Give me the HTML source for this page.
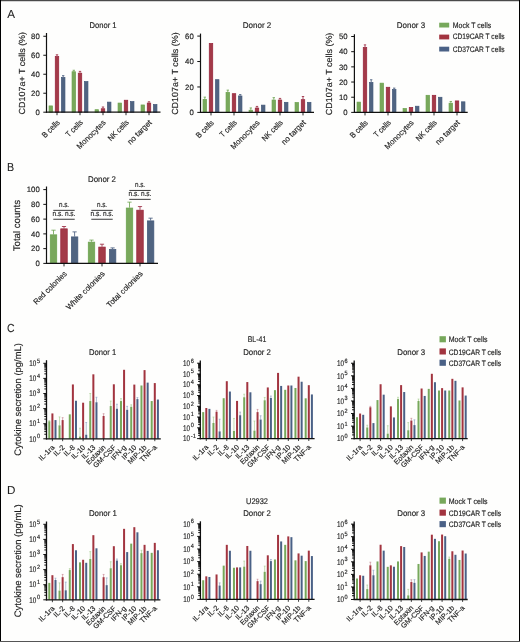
<!DOCTYPE html>
<html><head><meta charset="utf-8"><style>html,body{margin:0;padding:0;background:#fefefd;}svg{display:block;will-change:transform;}text{stroke:#1e1e1e;stroke-width:1.6px;text-rendering:geometricPrecision;}</style></head><body>
<svg width="520" height="642" viewBox="0 0 520 642" font-family='"Liberation Sans", sans-serif' fill="#1e1e1e">
<rect x="0" y="0" width="520" height="642" fill="#fefefd"/>
<text transform="translate(7.2 17.8) scale(0.1)" font-size="117" style="stroke-width:0.6px">A</text>
<rect x="49.05" y="105.91" width="3.5" height="6.29" fill="#79a85c" stroke="#6aa24c" stroke-width="0.7"/>
<line x1="57" y1="54.79" x2="57" y2="56.21" stroke="#97223a" stroke-width="0.8"/>
<line x1="55.8" y1="54.79" x2="58.2" y2="54.79" stroke="#97223a" stroke-width="0.8"/>
<rect x="55.25" y="56.56" width="3.5" height="55.64" fill="#a33a48" stroke="#97223a" stroke-width="0.7"/>
<line x1="63.2" y1="75.66" x2="63.2" y2="77.09" stroke="#42587a" stroke-width="0.8"/>
<line x1="62" y1="75.66" x2="64.4" y2="75.66" stroke="#42587a" stroke-width="0.8"/>
<rect x="61.45" y="77.44" width="3.5" height="34.76" fill="#506481" stroke="#42587a" stroke-width="0.7"/>
<line x1="73.8" y1="70.25" x2="73.8" y2="71.39" stroke="#6aa24c" stroke-width="0.8"/>
<line x1="72.6" y1="70.25" x2="75" y2="70.25" stroke="#6aa24c" stroke-width="0.8"/>
<rect x="72.05" y="71.74" width="3.5" height="40.46" fill="#79a85c" stroke="#6aa24c" stroke-width="0.7"/>
<line x1="80" y1="71.39" x2="80" y2="72.82" stroke="#97223a" stroke-width="0.8"/>
<line x1="78.8" y1="71.39" x2="81.2" y2="71.39" stroke="#97223a" stroke-width="0.8"/>
<rect x="78.25" y="73.17" width="3.5" height="39.03" fill="#a33a48" stroke="#97223a" stroke-width="0.7"/>
<rect x="84.45" y="81.61" width="3.5" height="30.59" fill="#506481" stroke="#42587a" stroke-width="0.7"/>
<rect x="95.05" y="109.7" width="3.5" height="2.5" fill="#79a85c" stroke="#6aa24c" stroke-width="0.7"/>
<line x1="103" y1="106.98" x2="103" y2="108.4" stroke="#97223a" stroke-width="0.8"/>
<line x1="101.8" y1="106.98" x2="104.2" y2="106.98" stroke="#97223a" stroke-width="0.8"/>
<rect x="101.25" y="108.75" width="3.5" height="3.45" fill="#a33a48" stroke="#97223a" stroke-width="0.7"/>
<rect x="107.45" y="102.11" width="3.5" height="10.09" fill="#506481" stroke="#42587a" stroke-width="0.7"/>
<rect x="118.05" y="103.06" width="3.5" height="9.14" fill="#79a85c" stroke="#6aa24c" stroke-width="0.7"/>
<rect x="124.25" y="100.21" width="3.5" height="11.99" fill="#a33a48" stroke="#97223a" stroke-width="0.7"/>
<rect x="130.45" y="101.64" width="3.5" height="10.56" fill="#506481" stroke="#42587a" stroke-width="0.7"/>
<rect x="141.05" y="104.96" width="3.5" height="7.24" fill="#79a85c" stroke="#6aa24c" stroke-width="0.7"/>
<line x1="149" y1="101.76" x2="149" y2="102.71" stroke="#97223a" stroke-width="0.8"/>
<line x1="147.8" y1="101.76" x2="150.2" y2="101.76" stroke="#97223a" stroke-width="0.8"/>
<rect x="147.25" y="103.06" width="3.5" height="9.14" fill="#a33a48" stroke="#97223a" stroke-width="0.7"/>
<rect x="153.45" y="104.48" width="3.5" height="7.72" fill="#506481" stroke="#42587a" stroke-width="0.7"/>
<line x1="46.5" y1="33" x2="46.5" y2="112.8" stroke="#111" stroke-width="1.2"/>
<line x1="45.9" y1="112.2" x2="160.5" y2="112.2" stroke="#111" stroke-width="1.2"/>
<line x1="43.3" y1="112.2" x2="46.5" y2="112.2" stroke="#111" stroke-width="1"/>
<text transform="translate(39.8 115) scale(0.1)" font-size="78" text-anchor="end">0</text>
<line x1="43.3" y1="93.22" x2="46.5" y2="93.22" stroke="#111" stroke-width="1"/>
<text transform="translate(39.8 96.02) scale(0.1)" font-size="78" text-anchor="end">20</text>
<line x1="43.3" y1="74.24" x2="46.5" y2="74.24" stroke="#111" stroke-width="1"/>
<text transform="translate(39.8 77.04) scale(0.1)" font-size="78" text-anchor="end">40</text>
<line x1="43.3" y1="55.26" x2="46.5" y2="55.26" stroke="#111" stroke-width="1"/>
<text transform="translate(39.8 58.06) scale(0.1)" font-size="78" text-anchor="end">60</text>
<line x1="43.3" y1="36.28" x2="46.5" y2="36.28" stroke="#111" stroke-width="1"/>
<text transform="translate(39.8 39.08) scale(0.1)" font-size="78" text-anchor="end">80</text>
<line x1="57" y1="112.2" x2="57" y2="115.2" stroke="#111" stroke-width="0.9"/>
<text transform="translate(60.3 123.1) rotate(-45) scale(0.1)" font-size="80" text-anchor="end" textLength="215" lengthAdjust="spacingAndGlyphs">B cells</text>
<line x1="80" y1="112.2" x2="80" y2="115.2" stroke="#111" stroke-width="0.9"/>
<text transform="translate(83.3 123.1) rotate(-45) scale(0.1)" font-size="80" text-anchor="end" textLength="205" lengthAdjust="spacingAndGlyphs">T cells</text>
<line x1="103" y1="112.2" x2="103" y2="115.2" stroke="#111" stroke-width="0.9"/>
<text transform="translate(106.3 123.1) rotate(-45) scale(0.1)" font-size="80" text-anchor="end" textLength="375" lengthAdjust="spacingAndGlyphs">Monocytes</text>
<line x1="126" y1="112.2" x2="126" y2="115.2" stroke="#111" stroke-width="0.9"/>
<text transform="translate(129.3 123.1) rotate(-45) scale(0.1)" font-size="80" text-anchor="end" textLength="260" lengthAdjust="spacingAndGlyphs">NK cells</text>
<line x1="149" y1="112.2" x2="149" y2="115.2" stroke="#111" stroke-width="0.9"/>
<text transform="translate(152.3 123.1) rotate(-45) scale(0.1)" font-size="80" text-anchor="end" textLength="310" lengthAdjust="spacingAndGlyphs">no target</text>
<text transform="translate(25 73.2) rotate(-90) scale(0.1)" font-size="88" text-anchor="middle" textLength="825" lengthAdjust="spacingAndGlyphs">CD107a+ T cells (%)</text>
<text transform="translate(103 28) scale(0.1)" font-size="83" text-anchor="middle" textLength="270" lengthAdjust="spacingAndGlyphs">Donor 1</text>
<line x1="204.8" y1="97.14" x2="204.8" y2="99.04" stroke="#6aa24c" stroke-width="0.8"/>
<line x1="203.6" y1="97.14" x2="206" y2="97.14" stroke="#6aa24c" stroke-width="0.8"/>
<rect x="203.05" y="99.39" width="3.5" height="13.01" fill="#79a85c" stroke="#6aa24c" stroke-width="0.7"/>
<rect x="209.25" y="43.43" width="3.5" height="68.97" fill="#a33a48" stroke="#97223a" stroke-width="0.7"/>
<rect x="215.45" y="79.68" width="3.5" height="32.72" fill="#506481" stroke="#42587a" stroke-width="0.7"/>
<line x1="227.8" y1="90.14" x2="227.8" y2="92.05" stroke="#6aa24c" stroke-width="0.8"/>
<line x1="226.6" y1="90.14" x2="229" y2="90.14" stroke="#6aa24c" stroke-width="0.8"/>
<rect x="226.05" y="92.4" width="3.5" height="20" fill="#79a85c" stroke="#6aa24c" stroke-width="0.7"/>
<rect x="232.25" y="93.67" width="3.5" height="18.73" fill="#a33a48" stroke="#97223a" stroke-width="0.7"/>
<line x1="240.2" y1="94.59" x2="240.2" y2="95.61" stroke="#42587a" stroke-width="0.8"/>
<line x1="239" y1="94.59" x2="241.4" y2="94.59" stroke="#42587a" stroke-width="0.8"/>
<rect x="238.45" y="95.96" width="3.5" height="16.44" fill="#506481" stroke="#42587a" stroke-width="0.7"/>
<line x1="250.8" y1="107.95" x2="250.8" y2="109.86" stroke="#6aa24c" stroke-width="0.8"/>
<line x1="249.6" y1="107.95" x2="252" y2="107.95" stroke="#6aa24c" stroke-width="0.8"/>
<rect x="249.05" y="110.21" width="3.5" height="2.19" fill="#79a85c" stroke="#6aa24c" stroke-width="0.7"/>
<line x1="257" y1="106.42" x2="257" y2="107.69" stroke="#97223a" stroke-width="0.8"/>
<line x1="255.8" y1="106.42" x2="258.2" y2="106.42" stroke="#97223a" stroke-width="0.8"/>
<rect x="255.25" y="108.04" width="3.5" height="4.36" fill="#a33a48" stroke="#97223a" stroke-width="0.7"/>
<rect x="261.45" y="105.12" width="3.5" height="7.28" fill="#506481" stroke="#42587a" stroke-width="0.7"/>
<line x1="273.8" y1="97.64" x2="273.8" y2="99.68" stroke="#6aa24c" stroke-width="0.8"/>
<line x1="272.6" y1="97.64" x2="275" y2="97.64" stroke="#6aa24c" stroke-width="0.8"/>
<rect x="272.05" y="100.03" width="3.5" height="12.37" fill="#79a85c" stroke="#6aa24c" stroke-width="0.7"/>
<line x1="280" y1="98.41" x2="280" y2="99.68" stroke="#97223a" stroke-width="0.8"/>
<line x1="278.8" y1="98.41" x2="281.2" y2="98.41" stroke="#97223a" stroke-width="0.8"/>
<rect x="278.25" y="100.03" width="3.5" height="12.37" fill="#a33a48" stroke="#97223a" stroke-width="0.7"/>
<rect x="284.45" y="102.32" width="3.5" height="10.08" fill="#506481" stroke="#42587a" stroke-width="0.7"/>
<rect x="295.05" y="102.57" width="3.5" height="9.83" fill="#79a85c" stroke="#6aa24c" stroke-width="0.7"/>
<line x1="303" y1="96.5" x2="303" y2="99.3" stroke="#97223a" stroke-width="0.8"/>
<line x1="301.8" y1="96.5" x2="304.2" y2="96.5" stroke="#97223a" stroke-width="0.8"/>
<rect x="301.25" y="99.65" width="3.5" height="12.75" fill="#a33a48" stroke="#97223a" stroke-width="0.7"/>
<rect x="307.45" y="102.32" width="3.5" height="10.08" fill="#506481" stroke="#42587a" stroke-width="0.7"/>
<line x1="200.5" y1="33.6" x2="200.5" y2="113" stroke="#111" stroke-width="1.2"/>
<line x1="199.9" y1="112.4" x2="314" y2="112.4" stroke="#111" stroke-width="1.2"/>
<line x1="197.3" y1="112.4" x2="200.5" y2="112.4" stroke="#111" stroke-width="1"/>
<text transform="translate(193.8 115.2) scale(0.1)" font-size="78" text-anchor="end">0</text>
<line x1="197.3" y1="86.96" x2="200.5" y2="86.96" stroke="#111" stroke-width="1"/>
<text transform="translate(193.8 89.76) scale(0.1)" font-size="78" text-anchor="end">20</text>
<line x1="197.3" y1="61.52" x2="200.5" y2="61.52" stroke="#111" stroke-width="1"/>
<text transform="translate(193.8 64.32) scale(0.1)" font-size="78" text-anchor="end">40</text>
<line x1="197.3" y1="36.08" x2="200.5" y2="36.08" stroke="#111" stroke-width="1"/>
<text transform="translate(193.8 38.88) scale(0.1)" font-size="78" text-anchor="end">60</text>
<line x1="211" y1="112.4" x2="211" y2="115.4" stroke="#111" stroke-width="0.9"/>
<text transform="translate(214.3 123.3) rotate(-45) scale(0.1)" font-size="80" text-anchor="end" textLength="215" lengthAdjust="spacingAndGlyphs">B cells</text>
<line x1="234" y1="112.4" x2="234" y2="115.4" stroke="#111" stroke-width="0.9"/>
<text transform="translate(237.3 123.3) rotate(-45) scale(0.1)" font-size="80" text-anchor="end" textLength="205" lengthAdjust="spacingAndGlyphs">T cells</text>
<line x1="257" y1="112.4" x2="257" y2="115.4" stroke="#111" stroke-width="0.9"/>
<text transform="translate(260.3 123.3) rotate(-45) scale(0.1)" font-size="80" text-anchor="end" textLength="375" lengthAdjust="spacingAndGlyphs">Monocytes</text>
<line x1="280" y1="112.4" x2="280" y2="115.4" stroke="#111" stroke-width="0.9"/>
<text transform="translate(283.3 123.3) rotate(-45) scale(0.1)" font-size="80" text-anchor="end" textLength="260" lengthAdjust="spacingAndGlyphs">NK cells</text>
<line x1="303" y1="112.4" x2="303" y2="115.4" stroke="#111" stroke-width="0.9"/>
<text transform="translate(306.3 123.3) rotate(-45) scale(0.1)" font-size="80" text-anchor="end" textLength="310" lengthAdjust="spacingAndGlyphs">no target</text>
<text transform="translate(177.9 73.6) rotate(-90) scale(0.1)" font-size="88" text-anchor="middle" textLength="825" lengthAdjust="spacingAndGlyphs">CD107a+ T cells (%)</text>
<text transform="translate(257 28) scale(0.1)" font-size="83" text-anchor="middle" textLength="285" lengthAdjust="spacingAndGlyphs">Donor 2</text>
<rect x="357.05" y="102.12" width="3.5" height="10.28" fill="#79a85c" stroke="#6aa24c" stroke-width="0.7"/>
<line x1="365" y1="44.85" x2="365" y2="47.13" stroke="#97223a" stroke-width="0.8"/>
<line x1="363.8" y1="44.85" x2="366.2" y2="44.85" stroke="#97223a" stroke-width="0.8"/>
<rect x="363.25" y="47.48" width="3.5" height="64.92" fill="#a33a48" stroke="#97223a" stroke-width="0.7"/>
<line x1="371.2" y1="79.76" x2="371.2" y2="82.04" stroke="#42587a" stroke-width="0.8"/>
<line x1="370" y1="79.76" x2="372.4" y2="79.76" stroke="#42587a" stroke-width="0.8"/>
<rect x="369.45" y="82.39" width="3.5" height="30.01" fill="#506481" stroke="#42587a" stroke-width="0.7"/>
<rect x="380.05" y="83.15" width="3.5" height="29.25" fill="#79a85c" stroke="#6aa24c" stroke-width="0.7"/>
<rect x="386.25" y="87.25" width="3.5" height="25.15" fill="#a33a48" stroke="#97223a" stroke-width="0.7"/>
<line x1="394.2" y1="88.11" x2="394.2" y2="89.17" stroke="#42587a" stroke-width="0.8"/>
<line x1="393" y1="88.11" x2="395.4" y2="88.11" stroke="#42587a" stroke-width="0.8"/>
<rect x="392.45" y="89.52" width="3.5" height="22.88" fill="#506481" stroke="#42587a" stroke-width="0.7"/>
<rect x="403.05" y="108.5" width="3.5" height="3.9" fill="#79a85c" stroke="#6aa24c" stroke-width="0.7"/>
<rect x="409.25" y="107.44" width="3.5" height="4.96" fill="#a33a48" stroke="#97223a" stroke-width="0.7"/>
<rect x="415.45" y="106.22" width="3.5" height="6.18" fill="#506481" stroke="#42587a" stroke-width="0.7"/>
<rect x="426.05" y="95.29" width="3.5" height="17.11" fill="#79a85c" stroke="#6aa24c" stroke-width="0.7"/>
<rect x="432.25" y="95.29" width="3.5" height="17.11" fill="#a33a48" stroke="#97223a" stroke-width="0.7"/>
<rect x="438.45" y="97.27" width="3.5" height="15.13" fill="#506481" stroke="#42587a" stroke-width="0.7"/>
<line x1="450.8" y1="101.47" x2="450.8" y2="102.84" stroke="#6aa24c" stroke-width="0.8"/>
<line x1="449.6" y1="101.47" x2="452" y2="101.47" stroke="#6aa24c" stroke-width="0.8"/>
<rect x="449.05" y="103.19" width="3.5" height="9.21" fill="#79a85c" stroke="#6aa24c" stroke-width="0.7"/>
<rect x="455.25" y="100.91" width="3.5" height="11.49" fill="#a33a48" stroke="#97223a" stroke-width="0.7"/>
<rect x="461.45" y="101.82" width="3.5" height="10.58" fill="#506481" stroke="#42587a" stroke-width="0.7"/>
<line x1="354.4" y1="34.2" x2="354.4" y2="113" stroke="#111" stroke-width="1.2"/>
<line x1="353.8" y1="112.4" x2="467.7" y2="112.4" stroke="#111" stroke-width="1.2"/>
<line x1="351.2" y1="112.4" x2="354.4" y2="112.4" stroke="#111" stroke-width="1"/>
<text transform="translate(347.7 115.2) scale(0.1)" font-size="78" text-anchor="end">0</text>
<line x1="351.2" y1="97.22" x2="354.4" y2="97.22" stroke="#111" stroke-width="1"/>
<text transform="translate(347.7 100.02) scale(0.1)" font-size="78" text-anchor="end">10</text>
<line x1="351.2" y1="82.04" x2="354.4" y2="82.04" stroke="#111" stroke-width="1"/>
<text transform="translate(347.7 84.84) scale(0.1)" font-size="78" text-anchor="end">20</text>
<line x1="351.2" y1="66.86" x2="354.4" y2="66.86" stroke="#111" stroke-width="1"/>
<text transform="translate(347.7 69.66) scale(0.1)" font-size="78" text-anchor="end">30</text>
<line x1="351.2" y1="51.68" x2="354.4" y2="51.68" stroke="#111" stroke-width="1"/>
<text transform="translate(347.7 54.48) scale(0.1)" font-size="78" text-anchor="end">40</text>
<line x1="351.2" y1="36.5" x2="354.4" y2="36.5" stroke="#111" stroke-width="1"/>
<text transform="translate(347.7 39.3) scale(0.1)" font-size="78" text-anchor="end">50</text>
<line x1="365" y1="112.4" x2="365" y2="115.4" stroke="#111" stroke-width="0.9"/>
<text transform="translate(368.3 123.3) rotate(-45) scale(0.1)" font-size="80" text-anchor="end" textLength="215" lengthAdjust="spacingAndGlyphs">B cells</text>
<line x1="388" y1="112.4" x2="388" y2="115.4" stroke="#111" stroke-width="0.9"/>
<text transform="translate(391.3 123.3) rotate(-45) scale(0.1)" font-size="80" text-anchor="end" textLength="205" lengthAdjust="spacingAndGlyphs">T cells</text>
<line x1="411" y1="112.4" x2="411" y2="115.4" stroke="#111" stroke-width="0.9"/>
<text transform="translate(414.3 123.3) rotate(-45) scale(0.1)" font-size="80" text-anchor="end" textLength="375" lengthAdjust="spacingAndGlyphs">Monocytes</text>
<line x1="434" y1="112.4" x2="434" y2="115.4" stroke="#111" stroke-width="0.9"/>
<text transform="translate(437.3 123.3) rotate(-45) scale(0.1)" font-size="80" text-anchor="end" textLength="260" lengthAdjust="spacingAndGlyphs">NK cells</text>
<line x1="457" y1="112.4" x2="457" y2="115.4" stroke="#111" stroke-width="0.9"/>
<text transform="translate(460.3 123.3) rotate(-45) scale(0.1)" font-size="80" text-anchor="end" textLength="310" lengthAdjust="spacingAndGlyphs">no target</text>
<text transform="translate(332.3 73.9) rotate(-90) scale(0.1)" font-size="88" text-anchor="middle" textLength="825" lengthAdjust="spacingAndGlyphs">CD107a+ T cells (%)</text>
<text transform="translate(411 28) scale(0.1)" font-size="83" text-anchor="middle" textLength="283" lengthAdjust="spacingAndGlyphs">Donor 3</text>
<rect x="439.2" y="22.7" width="10" height="4.8" fill="#77a85b"/>
<text transform="translate(452.7 27.5) scale(0.1)" font-size="79" textLength="385" lengthAdjust="spacingAndGlyphs">Mock T cells</text>
<rect x="439.2" y="34.6" width="10" height="4.8" fill="#a2343f"/>
<text transform="translate(452.7 39.4) scale(0.1)" font-size="79" textLength="520" lengthAdjust="spacingAndGlyphs">CD19CAR T cells</text>
<rect x="439.2" y="46.7" width="10" height="4.8" fill="#4a6186"/>
<text transform="translate(452.7 51.5) scale(0.1)" font-size="79" textLength="520" lengthAdjust="spacingAndGlyphs">CD37CAR T cells</text>
<text transform="translate(6.9 170.9) scale(0.1)" font-size="117" textLength="72" lengthAdjust="spacingAndGlyphs" style="stroke-width:0.6px">B</text>
<line x1="53.5" y1="230.19" x2="53.5" y2="234.47" stroke="#6aa24c" stroke-width="0.8"/>
<line x1="51.4" y1="230.19" x2="55.6" y2="230.19" stroke="#6aa24c" stroke-width="0.8"/>
<rect x="50.25" y="234.82" width="6.5" height="28.58" fill="#79a85c" stroke="#6aa24c" stroke-width="0.7"/>
<line x1="64" y1="226.5" x2="64" y2="228.49" stroke="#97223a" stroke-width="0.8"/>
<line x1="61.9" y1="226.5" x2="66.1" y2="226.5" stroke="#97223a" stroke-width="0.8"/>
<rect x="60.75" y="228.84" width="6.5" height="34.56" fill="#a33a48" stroke="#97223a" stroke-width="0.7"/>
<line x1="74.6" y1="231.89" x2="74.6" y2="236.54" stroke="#42587a" stroke-width="0.8"/>
<line x1="72.5" y1="231.89" x2="76.7" y2="231.89" stroke="#42587a" stroke-width="0.8"/>
<rect x="71.35" y="236.89" width="6.5" height="26.51" fill="#506481" stroke="#42587a" stroke-width="0.7"/>
<line x1="91.5" y1="240.08" x2="91.5" y2="241.78" stroke="#6aa24c" stroke-width="0.8"/>
<line x1="89.4" y1="240.08" x2="93.6" y2="240.08" stroke="#6aa24c" stroke-width="0.8"/>
<rect x="88.25" y="242.13" width="6.5" height="21.27" fill="#79a85c" stroke="#6aa24c" stroke-width="0.7"/>
<line x1="102" y1="244.21" x2="102" y2="246.72" stroke="#97223a" stroke-width="0.8"/>
<line x1="99.9" y1="244.21" x2="104.1" y2="244.21" stroke="#97223a" stroke-width="0.8"/>
<rect x="98.75" y="247.07" width="6.5" height="16.33" fill="#a33a48" stroke="#97223a" stroke-width="0.7"/>
<line x1="112.6" y1="247.9" x2="112.6" y2="249.08" stroke="#42587a" stroke-width="0.8"/>
<line x1="110.5" y1="247.9" x2="114.7" y2="247.9" stroke="#42587a" stroke-width="0.8"/>
<rect x="109.35" y="249.43" width="6.5" height="13.97" fill="#506481" stroke="#42587a" stroke-width="0.7"/>
<line x1="129.5" y1="202.15" x2="129.5" y2="207.68" stroke="#6aa24c" stroke-width="0.8"/>
<line x1="127.4" y1="202.15" x2="131.6" y2="202.15" stroke="#6aa24c" stroke-width="0.8"/>
<rect x="126.25" y="208.03" width="6.5" height="55.37" fill="#79a85c" stroke="#6aa24c" stroke-width="0.7"/>
<line x1="140" y1="206.57" x2="140" y2="209.82" stroke="#97223a" stroke-width="0.8"/>
<line x1="137.9" y1="206.57" x2="142.1" y2="206.57" stroke="#97223a" stroke-width="0.8"/>
<rect x="136.75" y="210.17" width="6.5" height="53.23" fill="#a33a48" stroke="#97223a" stroke-width="0.7"/>
<line x1="150.6" y1="218.16" x2="150.6" y2="220.52" stroke="#42587a" stroke-width="0.8"/>
<line x1="148.5" y1="218.16" x2="152.7" y2="218.16" stroke="#42587a" stroke-width="0.8"/>
<rect x="147.35" y="220.87" width="6.5" height="42.53" fill="#506481" stroke="#42587a" stroke-width="0.7"/>
<line x1="46.5" y1="186.5" x2="46.5" y2="264" stroke="#111" stroke-width="1.2"/>
<line x1="45.9" y1="263.4" x2="158" y2="263.4" stroke="#111" stroke-width="1.2"/>
<line x1="43.3" y1="263.4" x2="46.5" y2="263.4" stroke="#111" stroke-width="1"/>
<text transform="translate(39.8 266.2) scale(0.1)" font-size="78" text-anchor="end">0</text>
<line x1="43.3" y1="248.64" x2="46.5" y2="248.64" stroke="#111" stroke-width="1"/>
<text transform="translate(39.8 251.44) scale(0.1)" font-size="78" text-anchor="end">20</text>
<line x1="43.3" y1="233.88" x2="46.5" y2="233.88" stroke="#111" stroke-width="1"/>
<text transform="translate(39.8 236.68) scale(0.1)" font-size="78" text-anchor="end">40</text>
<line x1="43.3" y1="219.12" x2="46.5" y2="219.12" stroke="#111" stroke-width="1"/>
<text transform="translate(39.8 221.92) scale(0.1)" font-size="78" text-anchor="end">60</text>
<line x1="43.3" y1="204.36" x2="46.5" y2="204.36" stroke="#111" stroke-width="1"/>
<text transform="translate(39.8 207.16) scale(0.1)" font-size="78" text-anchor="end">80</text>
<line x1="43.3" y1="189.6" x2="46.5" y2="189.6" stroke="#111" stroke-width="1"/>
<text transform="translate(39.8 192.4) scale(0.1)" font-size="78" text-anchor="end">100</text>
<line x1="64" y1="263.4" x2="64" y2="266.4" stroke="#111" stroke-width="0.9"/>
<text transform="translate(67.3 274.3) rotate(-45) scale(0.1)" font-size="80" text-anchor="end" textLength="435" lengthAdjust="spacingAndGlyphs">Red colonies</text>
<line x1="102" y1="263.4" x2="102" y2="266.4" stroke="#111" stroke-width="0.9"/>
<text transform="translate(105.3 274.3) rotate(-45) scale(0.1)" font-size="80" text-anchor="end" textLength="510" lengthAdjust="spacingAndGlyphs">White colonies</text>
<line x1="140" y1="263.4" x2="140" y2="266.4" stroke="#111" stroke-width="0.9"/>
<text transform="translate(143.3 274.3) rotate(-45) scale(0.1)" font-size="80" text-anchor="end" textLength="475" lengthAdjust="spacingAndGlyphs">Total colonies</text>
<text transform="translate(20.1 225.55) rotate(-90) scale(0.1)" font-size="96" text-anchor="middle" textLength="513" lengthAdjust="spacingAndGlyphs">Total counts</text>
<text transform="translate(102 181.6) scale(0.1)" font-size="83" text-anchor="middle" textLength="280" lengthAdjust="spacingAndGlyphs">Donor 2</text>
<text transform="translate(64 207.1) scale(0.1)" font-size="76" text-anchor="middle" textLength="102" lengthAdjust="spacingAndGlyphs">n.s.</text>
<line x1="53.3" y1="210.35" x2="74.7" y2="210.35" stroke="#3a3a3a" stroke-width="1"/>
<text transform="translate(64 216) scale(0.1)" font-size="76" text-anchor="middle" textLength="228" lengthAdjust="spacingAndGlyphs">n.s. n.s.</text>
<line x1="53.3" y1="219.25" x2="74.7" y2="219.25" stroke="#3a3a3a" stroke-width="1"/>
<text transform="translate(102 207.1) scale(0.1)" font-size="76" text-anchor="middle" textLength="102" lengthAdjust="spacingAndGlyphs">n.s.</text>
<line x1="91.3" y1="210.35" x2="112.7" y2="210.35" stroke="#3a3a3a" stroke-width="1"/>
<text transform="translate(102 216) scale(0.1)" font-size="76" text-anchor="middle" textLength="228" lengthAdjust="spacingAndGlyphs">n.s. n.s.</text>
<line x1="91.3" y1="219.25" x2="112.7" y2="219.25" stroke="#3a3a3a" stroke-width="1"/>
<text transform="translate(140 187.2) scale(0.1)" font-size="76" text-anchor="middle" textLength="102" lengthAdjust="spacingAndGlyphs">n.s.</text>
<line x1="129.3" y1="190.45" x2="150.7" y2="190.45" stroke="#3a3a3a" stroke-width="1"/>
<text transform="translate(140 196.1) scale(0.1)" font-size="76" text-anchor="middle" textLength="228" lengthAdjust="spacingAndGlyphs">n.s. n.s.</text>
<line x1="129.3" y1="199.35" x2="150.7" y2="199.35" stroke="#3a3a3a" stroke-width="1"/>
<text transform="translate(6.9 332) scale(0.1)" font-size="117" textLength="76" lengthAdjust="spacingAndGlyphs" style="stroke-width:0.6px">C</text>
<text transform="translate(257 342.3) scale(0.1)" font-size="83" text-anchor="middle" textLength="185" lengthAdjust="spacingAndGlyphs">BL-41</text>
<rect x="439.5" y="336.2" width="6.4" height="6.1" fill="#77a85b"/>
<text transform="translate(448.7 342.3) scale(0.1)" font-size="79" textLength="389" lengthAdjust="spacingAndGlyphs">Mock T cells</text>
<rect x="439.5" y="348.4" width="6.4" height="6.1" fill="#a2343f"/>
<text transform="translate(448.7 354.5) scale(0.1)" font-size="79" textLength="523" lengthAdjust="spacingAndGlyphs">CD19CAR T cells</text>
<rect x="439.5" y="359.7" width="6.4" height="6.1" fill="#4a6186"/>
<text transform="translate(448.7 365.8) scale(0.1)" font-size="79" textLength="523" lengthAdjust="spacingAndGlyphs">CD37CAR T cells</text>
<text transform="translate(102.6 354.8) scale(0.1)" font-size="83" text-anchor="middle" textLength="272" lengthAdjust="spacingAndGlyphs">Donor 1</text>
<text transform="translate(257.1 354.8) scale(0.1)" font-size="83" text-anchor="middle" textLength="277" lengthAdjust="spacingAndGlyphs">Donor 2</text>
<text transform="translate(411.2 355) scale(0.1)" font-size="83" text-anchor="middle" textLength="280" lengthAdjust="spacingAndGlyphs">Donor 3</text>
<text transform="translate(21 399.4) rotate(-90) scale(0.1)" font-size="95" text-anchor="middle" textLength="1125" lengthAdjust="spacingAndGlyphs">Cytokine secretion (pg/mL)</text>
<line x1="49.3" y1="420.68" x2="49.3" y2="421.28" stroke="#a9cf94" stroke-width="0.7"/>
<line x1="48.4" y1="420.68" x2="50.2" y2="420.68" stroke="#a9cf94" stroke-width="0.7"/>
<rect x="48.3" y="421.28" width="2" height="17.52" fill="#77a85b"/>
<rect x="51.4" y="413.43" width="2" height="25.37" fill="#a2343f"/>
<rect x="54.5" y="420.08" width="2" height="18.72" fill="#4a6186"/>
<line x1="59.54" y1="416.91" x2="59.54" y2="425.36" stroke="#a9cf94" stroke-width="0.7"/>
<line x1="58.64" y1="416.91" x2="60.44" y2="416.91" stroke="#a9cf94" stroke-width="0.7"/>
<rect x="58.54" y="425.36" width="2" height="13.44" fill="#77a85b"/>
<line x1="62.64" y1="417.66" x2="62.64" y2="420.08" stroke="#c98a95" stroke-width="0.7"/>
<line x1="61.74" y1="417.66" x2="63.54" y2="417.66" stroke="#c98a95" stroke-width="0.7"/>
<rect x="61.64" y="420.08" width="2" height="18.72" fill="#a2343f"/>
<rect x="68.78" y="414.34" width="2" height="24.46" fill="#77a85b"/>
<rect x="71.88" y="384.44" width="2" height="54.36" fill="#a2343f"/>
<rect x="74.98" y="400.75" width="2" height="38.05" fill="#4a6186"/>
<line x1="80.02" y1="428.23" x2="80.02" y2="436.54" stroke="#a9cf94" stroke-width="0.7"/>
<line x1="79.12" y1="428.23" x2="80.92" y2="428.23" stroke="#a9cf94" stroke-width="0.7"/>
<rect x="79.02" y="436.54" width="2" height="2.26" fill="#77a85b"/>
<rect x="82.12" y="402.71" width="2" height="36.09" fill="#a2343f"/>
<line x1="86.22" y1="422.49" x2="86.22" y2="434.72" stroke="#8fa3c4" stroke-width="0.7"/>
<line x1="85.32" y1="422.49" x2="87.12" y2="422.49" stroke="#8fa3c4" stroke-width="0.7"/>
<rect x="85.22" y="434.72" width="2" height="4.08" fill="#4a6186"/>
<line x1="90.26" y1="393.5" x2="90.26" y2="401.05" stroke="#a9cf94" stroke-width="0.7"/>
<line x1="89.36" y1="393.5" x2="91.16" y2="393.5" stroke="#a9cf94" stroke-width="0.7"/>
<rect x="89.26" y="401.05" width="2" height="37.75" fill="#77a85b"/>
<rect x="92.36" y="374.32" width="2" height="64.48" fill="#a2343f"/>
<line x1="96.46" y1="397.28" x2="96.46" y2="402.26" stroke="#8fa3c4" stroke-width="0.7"/>
<line x1="95.56" y1="397.28" x2="97.36" y2="397.28" stroke="#8fa3c4" stroke-width="0.7"/>
<rect x="95.46" y="402.26" width="2" height="36.54" fill="#4a6186"/>
<line x1="103.6" y1="413.73" x2="103.6" y2="416" stroke="#c98a95" stroke-width="0.7"/>
<line x1="102.7" y1="413.73" x2="104.5" y2="413.73" stroke="#c98a95" stroke-width="0.7"/>
<rect x="102.6" y="416" width="2" height="22.8" fill="#a2343f"/>
<line x1="110.74" y1="401.05" x2="110.74" y2="406.03" stroke="#a9cf94" stroke-width="0.7"/>
<line x1="109.84" y1="401.05" x2="111.64" y2="401.05" stroke="#a9cf94" stroke-width="0.7"/>
<rect x="109.74" y="406.03" width="2" height="32.77" fill="#77a85b"/>
<rect x="112.84" y="384.29" width="2" height="54.51" fill="#a2343f"/>
<line x1="116.94" y1="404.22" x2="116.94" y2="408.75" stroke="#8fa3c4" stroke-width="0.7"/>
<line x1="116.04" y1="404.22" x2="117.84" y2="404.22" stroke="#8fa3c4" stroke-width="0.7"/>
<rect x="115.94" y="408.75" width="2" height="30.05" fill="#4a6186"/>
<line x1="120.98" y1="398.63" x2="120.98" y2="401.05" stroke="#a9cf94" stroke-width="0.7"/>
<line x1="120.08" y1="398.63" x2="121.88" y2="398.63" stroke="#a9cf94" stroke-width="0.7"/>
<rect x="119.98" y="401.05" width="2" height="37.75" fill="#77a85b"/>
<rect x="123.08" y="369.79" width="2" height="69.01" fill="#a2343f"/>
<line x1="127.18" y1="406.34" x2="127.18" y2="409.81" stroke="#8fa3c4" stroke-width="0.7"/>
<line x1="126.28" y1="406.34" x2="128.08" y2="406.34" stroke="#8fa3c4" stroke-width="0.7"/>
<rect x="126.18" y="409.81" width="2" height="28.99" fill="#4a6186"/>
<line x1="131.22" y1="404.82" x2="131.22" y2="406.79" stroke="#a9cf94" stroke-width="0.7"/>
<line x1="130.32" y1="404.82" x2="132.12" y2="404.82" stroke="#a9cf94" stroke-width="0.7"/>
<rect x="130.22" y="406.79" width="2" height="32.01" fill="#77a85b"/>
<rect x="133.32" y="384.59" width="2" height="54.21" fill="#a2343f"/>
<line x1="137.42" y1="397.58" x2="137.42" y2="399.09" stroke="#8fa3c4" stroke-width="0.7"/>
<line x1="136.52" y1="397.58" x2="138.32" y2="397.58" stroke="#8fa3c4" stroke-width="0.7"/>
<rect x="136.42" y="399.09" width="2" height="39.71" fill="#4a6186"/>
<rect x="140.46" y="385.5" width="2" height="53.3" fill="#77a85b"/>
<rect x="143.56" y="370.1" width="2" height="68.7" fill="#a2343f"/>
<rect x="146.66" y="382.63" width="2" height="56.17" fill="#4a6186"/>
<rect x="150.7" y="401.05" width="2" height="37.75" fill="#77a85b"/>
<rect x="153.8" y="383.08" width="2" height="55.72" fill="#a2343f"/>
<rect x="156.9" y="399.54" width="2" height="39.26" fill="#4a6186"/>
<line x1="46.5" y1="360.2" x2="46.5" y2="439.4" stroke="#111" stroke-width="1.3"/>
<line x1="45.9" y1="438.8" x2="160.8" y2="438.8" stroke="#111" stroke-width="1.3"/>
<line x1="43.3" y1="438.8" x2="46.5" y2="438.8" stroke="#111" stroke-width="1"/>
<line x1="44.3" y1="434.25" x2="46.5" y2="434.25" stroke="#000" stroke-width="0.9"/>
<line x1="44.3" y1="431.6" x2="46.5" y2="431.6" stroke="#000" stroke-width="0.9"/>
<line x1="44.3" y1="429.71" x2="46.5" y2="429.71" stroke="#000" stroke-width="0.9"/>
<line x1="44.3" y1="428.25" x2="46.5" y2="428.25" stroke="#000" stroke-width="0.9"/>
<line x1="44.3" y1="427.05" x2="46.5" y2="427.05" stroke="#000" stroke-width="0.9"/>
<line x1="44.3" y1="426.04" x2="46.5" y2="426.04" stroke="#000" stroke-width="0.9"/>
<line x1="44.3" y1="425.16" x2="46.5" y2="425.16" stroke="#000" stroke-width="0.9"/>
<line x1="44.3" y1="424.39" x2="46.5" y2="424.39" stroke="#000" stroke-width="0.9"/>
<text transform="translate(29.3 441.5) scale(0.1)" font-size="83" textLength="70" lengthAdjust="spacingAndGlyphs">10</text>
<text transform="translate(36.9 438.2) scale(0.1)" font-size="62" textLength="31" lengthAdjust="spacingAndGlyphs">0</text>
<line x1="43.3" y1="423.7" x2="46.5" y2="423.7" stroke="#111" stroke-width="1"/>
<line x1="44.3" y1="419.15" x2="46.5" y2="419.15" stroke="#000" stroke-width="0.9"/>
<line x1="44.3" y1="416.5" x2="46.5" y2="416.5" stroke="#000" stroke-width="0.9"/>
<line x1="44.3" y1="414.61" x2="46.5" y2="414.61" stroke="#000" stroke-width="0.9"/>
<line x1="44.3" y1="413.15" x2="46.5" y2="413.15" stroke="#000" stroke-width="0.9"/>
<line x1="44.3" y1="411.95" x2="46.5" y2="411.95" stroke="#000" stroke-width="0.9"/>
<line x1="44.3" y1="410.94" x2="46.5" y2="410.94" stroke="#000" stroke-width="0.9"/>
<line x1="44.3" y1="410.06" x2="46.5" y2="410.06" stroke="#000" stroke-width="0.9"/>
<line x1="44.3" y1="409.29" x2="46.5" y2="409.29" stroke="#000" stroke-width="0.9"/>
<text transform="translate(29.3 426.4) scale(0.1)" font-size="83" textLength="70" lengthAdjust="spacingAndGlyphs">10</text>
<text transform="translate(36.9 423.1) scale(0.1)" font-size="62" textLength="31" lengthAdjust="spacingAndGlyphs">1</text>
<line x1="43.3" y1="408.6" x2="46.5" y2="408.6" stroke="#111" stroke-width="1"/>
<line x1="44.3" y1="404.05" x2="46.5" y2="404.05" stroke="#000" stroke-width="0.9"/>
<line x1="44.3" y1="401.4" x2="46.5" y2="401.4" stroke="#000" stroke-width="0.9"/>
<line x1="44.3" y1="399.51" x2="46.5" y2="399.51" stroke="#000" stroke-width="0.9"/>
<line x1="44.3" y1="398.05" x2="46.5" y2="398.05" stroke="#000" stroke-width="0.9"/>
<line x1="44.3" y1="396.85" x2="46.5" y2="396.85" stroke="#000" stroke-width="0.9"/>
<line x1="44.3" y1="395.84" x2="46.5" y2="395.84" stroke="#000" stroke-width="0.9"/>
<line x1="44.3" y1="394.96" x2="46.5" y2="394.96" stroke="#000" stroke-width="0.9"/>
<line x1="44.3" y1="394.19" x2="46.5" y2="394.19" stroke="#000" stroke-width="0.9"/>
<text transform="translate(29.3 411.3) scale(0.1)" font-size="83" textLength="70" lengthAdjust="spacingAndGlyphs">10</text>
<text transform="translate(36.9 408) scale(0.1)" font-size="62" textLength="31" lengthAdjust="spacingAndGlyphs">2</text>
<line x1="43.3" y1="393.5" x2="46.5" y2="393.5" stroke="#111" stroke-width="1"/>
<line x1="44.3" y1="388.95" x2="46.5" y2="388.95" stroke="#000" stroke-width="0.9"/>
<line x1="44.3" y1="386.3" x2="46.5" y2="386.3" stroke="#000" stroke-width="0.9"/>
<line x1="44.3" y1="384.41" x2="46.5" y2="384.41" stroke="#000" stroke-width="0.9"/>
<line x1="44.3" y1="382.95" x2="46.5" y2="382.95" stroke="#000" stroke-width="0.9"/>
<line x1="44.3" y1="381.75" x2="46.5" y2="381.75" stroke="#000" stroke-width="0.9"/>
<line x1="44.3" y1="380.74" x2="46.5" y2="380.74" stroke="#000" stroke-width="0.9"/>
<line x1="44.3" y1="379.86" x2="46.5" y2="379.86" stroke="#000" stroke-width="0.9"/>
<line x1="44.3" y1="379.09" x2="46.5" y2="379.09" stroke="#000" stroke-width="0.9"/>
<text transform="translate(29.3 396.2) scale(0.1)" font-size="83" textLength="70" lengthAdjust="spacingAndGlyphs">10</text>
<text transform="translate(36.9 392.9) scale(0.1)" font-size="62" textLength="31" lengthAdjust="spacingAndGlyphs">3</text>
<line x1="43.3" y1="378.4" x2="46.5" y2="378.4" stroke="#111" stroke-width="1"/>
<line x1="44.3" y1="373.85" x2="46.5" y2="373.85" stroke="#000" stroke-width="0.9"/>
<line x1="44.3" y1="371.2" x2="46.5" y2="371.2" stroke="#000" stroke-width="0.9"/>
<line x1="44.3" y1="369.31" x2="46.5" y2="369.31" stroke="#000" stroke-width="0.9"/>
<line x1="44.3" y1="367.85" x2="46.5" y2="367.85" stroke="#000" stroke-width="0.9"/>
<line x1="44.3" y1="366.65" x2="46.5" y2="366.65" stroke="#000" stroke-width="0.9"/>
<line x1="44.3" y1="365.64" x2="46.5" y2="365.64" stroke="#000" stroke-width="0.9"/>
<line x1="44.3" y1="364.76" x2="46.5" y2="364.76" stroke="#000" stroke-width="0.9"/>
<line x1="44.3" y1="363.99" x2="46.5" y2="363.99" stroke="#000" stroke-width="0.9"/>
<text transform="translate(29.3 381.1) scale(0.1)" font-size="83" textLength="70" lengthAdjust="spacingAndGlyphs">10</text>
<text transform="translate(36.9 377.8) scale(0.1)" font-size="62" textLength="31" lengthAdjust="spacingAndGlyphs">4</text>
<line x1="43.3" y1="363.3" x2="46.5" y2="363.3" stroke="#111" stroke-width="1"/>
<text transform="translate(29.3 366) scale(0.1)" font-size="83" textLength="70" lengthAdjust="spacingAndGlyphs">10</text>
<text transform="translate(36.9 362.7) scale(0.1)" font-size="62" textLength="31" lengthAdjust="spacingAndGlyphs">5</text>
<line x1="52.4" y1="438.8" x2="52.4" y2="441.2" stroke="#111" stroke-width="0.8"/>
<line x1="62.64" y1="438.8" x2="62.64" y2="441.2" stroke="#111" stroke-width="0.8"/>
<line x1="72.88" y1="438.8" x2="72.88" y2="441.2" stroke="#111" stroke-width="0.8"/>
<line x1="83.12" y1="438.8" x2="83.12" y2="441.2" stroke="#111" stroke-width="0.8"/>
<line x1="93.36" y1="438.8" x2="93.36" y2="441.2" stroke="#111" stroke-width="0.8"/>
<line x1="103.6" y1="438.8" x2="103.6" y2="441.2" stroke="#111" stroke-width="0.8"/>
<line x1="113.84" y1="438.8" x2="113.84" y2="441.2" stroke="#111" stroke-width="0.8"/>
<line x1="124.08" y1="438.8" x2="124.08" y2="441.2" stroke="#111" stroke-width="0.8"/>
<line x1="134.32" y1="438.8" x2="134.32" y2="441.2" stroke="#111" stroke-width="0.8"/>
<line x1="144.56" y1="438.8" x2="144.56" y2="441.2" stroke="#111" stroke-width="0.8"/>
<line x1="154.8" y1="438.8" x2="154.8" y2="441.2" stroke="#111" stroke-width="0.8"/>
<text transform="translate(55 447.8) rotate(-45) scale(0.1)" font-size="73" text-anchor="end">IL-1ra</text>
<text transform="translate(65.24 447.8) rotate(-45) scale(0.1)" font-size="73" text-anchor="end">IL-2</text>
<text transform="translate(75.48 447.8) rotate(-45) scale(0.1)" font-size="73" text-anchor="end">IL-8</text>
<text transform="translate(85.72 447.8) rotate(-45) scale(0.1)" font-size="73" text-anchor="end">IL-10</text>
<text transform="translate(95.96 447.8) rotate(-45) scale(0.1)" font-size="73" text-anchor="end">IL-13</text>
<text transform="translate(106.2 447.8) rotate(-45) scale(0.1)" font-size="73" text-anchor="end">Eotaxin</text>
<text transform="translate(116.44 447.8) rotate(-45) scale(0.1)" font-size="73" text-anchor="end">GM-CSF</text>
<text transform="translate(126.68 447.8) rotate(-45) scale(0.1)" font-size="73" text-anchor="end">IFN-g</text>
<text transform="translate(136.92 447.8) rotate(-45) scale(0.1)" font-size="73" text-anchor="end">IP-10</text>
<text transform="translate(147.16 447.8) rotate(-45) scale(0.1)" font-size="73" text-anchor="end">MIP-1b</text>
<text transform="translate(157.4 447.8) rotate(-45) scale(0.1)" font-size="73" text-anchor="end">TNF-a</text>
<rect x="202.2" y="412.11" width="2" height="26.49" fill="#77a85b"/>
<rect x="205.3" y="408.01" width="2" height="30.59" fill="#a2343f"/>
<rect x="208.4" y="408.87" width="2" height="29.73" fill="#4a6186"/>
<line x1="213.45" y1="417.06" x2="213.45" y2="422.98" stroke="#a9cf94" stroke-width="0.7"/>
<line x1="212.55" y1="417.06" x2="214.35" y2="417.06" stroke="#a9cf94" stroke-width="0.7"/>
<rect x="212.45" y="422.98" width="2" height="15.62" fill="#77a85b"/>
<line x1="216.55" y1="410.38" x2="216.55" y2="411.68" stroke="#c98a95" stroke-width="0.7"/>
<line x1="215.65" y1="410.38" x2="217.45" y2="410.38" stroke="#c98a95" stroke-width="0.7"/>
<rect x="215.55" y="411.68" width="2" height="26.93" fill="#a2343f"/>
<line x1="219.65" y1="419.21" x2="219.65" y2="431.38" stroke="#8fa3c4" stroke-width="0.7"/>
<line x1="218.75" y1="419.21" x2="220.55" y2="419.21" stroke="#8fa3c4" stroke-width="0.7"/>
<rect x="218.65" y="431.38" width="2" height="7.22" fill="#4a6186"/>
<rect x="222.7" y="398.21" width="2" height="40.39" fill="#77a85b"/>
<rect x="225.8" y="381.2" width="2" height="57.4" fill="#a2343f"/>
<rect x="228.9" y="391.54" width="2" height="47.06" fill="#4a6186"/>
<line x1="233.95" y1="418.46" x2="233.95" y2="430.95" stroke="#a9cf94" stroke-width="0.7"/>
<line x1="233.05" y1="418.46" x2="234.85" y2="418.46" stroke="#a9cf94" stroke-width="0.7"/>
<rect x="232.95" y="430.95" width="2" height="7.65" fill="#77a85b"/>
<rect x="236.05" y="400.91" width="2" height="37.69" fill="#a2343f"/>
<line x1="240.15" y1="412.11" x2="240.15" y2="415.23" stroke="#8fa3c4" stroke-width="0.7"/>
<line x1="239.25" y1="412.11" x2="241.05" y2="412.11" stroke="#8fa3c4" stroke-width="0.7"/>
<rect x="239.15" y="415.23" width="2" height="23.37" fill="#4a6186"/>
<line x1="244.2" y1="394.23" x2="244.2" y2="397.24" stroke="#a9cf94" stroke-width="0.7"/>
<line x1="243.3" y1="394.23" x2="245.1" y2="394.23" stroke="#a9cf94" stroke-width="0.7"/>
<rect x="243.2" y="397.24" width="2" height="41.36" fill="#77a85b"/>
<rect x="246.3" y="382.06" width="2" height="56.54" fill="#a2343f"/>
<rect x="249.4" y="392.29" width="2" height="46.31" fill="#4a6186"/>
<line x1="254.45" y1="421.04" x2="254.45" y2="430.63" stroke="#a9cf94" stroke-width="0.7"/>
<line x1="253.55" y1="421.04" x2="255.35" y2="421.04" stroke="#a9cf94" stroke-width="0.7"/>
<rect x="253.45" y="430.63" width="2" height="7.97" fill="#77a85b"/>
<line x1="257.55" y1="409.41" x2="257.55" y2="412.11" stroke="#c98a95" stroke-width="0.7"/>
<line x1="256.65" y1="409.41" x2="258.45" y2="409.41" stroke="#c98a95" stroke-width="0.7"/>
<rect x="256.55" y="412.11" width="2" height="26.49" fill="#a2343f"/>
<line x1="260.65" y1="415.77" x2="260.65" y2="419.54" stroke="#8fa3c4" stroke-width="0.7"/>
<line x1="259.75" y1="415.77" x2="261.55" y2="415.77" stroke="#8fa3c4" stroke-width="0.7"/>
<rect x="259.65" y="419.54" width="2" height="19.06" fill="#4a6186"/>
<line x1="264.7" y1="397.46" x2="264.7" y2="400.26" stroke="#a9cf94" stroke-width="0.7"/>
<line x1="263.8" y1="397.46" x2="265.6" y2="397.46" stroke="#a9cf94" stroke-width="0.7"/>
<rect x="263.7" y="400.26" width="2" height="38.34" fill="#77a85b"/>
<rect x="266.8" y="387.44" width="2" height="51.16" fill="#a2343f"/>
<line x1="270.9" y1="396.06" x2="270.9" y2="398" stroke="#8fa3c4" stroke-width="0.7"/>
<line x1="270" y1="396.06" x2="271.8" y2="396.06" stroke="#8fa3c4" stroke-width="0.7"/>
<rect x="269.9" y="398" width="2" height="40.6" fill="#4a6186"/>
<rect x="273.95" y="390.14" width="2" height="48.46" fill="#77a85b"/>
<rect x="277.05" y="372.9" width="2" height="65.7" fill="#a2343f"/>
<rect x="280.15" y="385.93" width="2" height="52.67" fill="#4a6186"/>
<rect x="284.2" y="389.81" width="2" height="48.79" fill="#77a85b"/>
<rect x="287.3" y="385.5" width="2" height="53.1" fill="#a2343f"/>
<rect x="290.4" y="385.5" width="2" height="53.1" fill="#4a6186"/>
<rect x="294.45" y="387.98" width="2" height="50.62" fill="#77a85b"/>
<rect x="297.55" y="376.67" width="2" height="61.93" fill="#a2343f"/>
<rect x="300.65" y="381.73" width="2" height="56.87" fill="#4a6186"/>
<rect x="304.7" y="398.32" width="2" height="40.28" fill="#77a85b"/>
<rect x="307.8" y="385.18" width="2" height="53.42" fill="#a2343f"/>
<rect x="310.9" y="394.44" width="2" height="44.16" fill="#4a6186"/>
<line x1="200.3" y1="360.4" x2="200.3" y2="439.2" stroke="#111" stroke-width="1.3"/>
<line x1="199.7" y1="438.6" x2="314.6" y2="438.6" stroke="#111" stroke-width="1.3"/>
<line x1="197.1" y1="438.6" x2="200.3" y2="438.6" stroke="#111" stroke-width="1"/>
<line x1="198.1" y1="435.36" x2="200.3" y2="435.36" stroke="#000" stroke-width="0.9"/>
<line x1="198.1" y1="433.46" x2="200.3" y2="433.46" stroke="#000" stroke-width="0.9"/>
<line x1="198.1" y1="432.12" x2="200.3" y2="432.12" stroke="#000" stroke-width="0.9"/>
<line x1="198.1" y1="431.07" x2="200.3" y2="431.07" stroke="#000" stroke-width="0.9"/>
<line x1="198.1" y1="430.22" x2="200.3" y2="430.22" stroke="#000" stroke-width="0.9"/>
<line x1="198.1" y1="429.5" x2="200.3" y2="429.5" stroke="#000" stroke-width="0.9"/>
<line x1="198.1" y1="428.87" x2="200.3" y2="428.87" stroke="#000" stroke-width="0.9"/>
<line x1="198.1" y1="428.32" x2="200.3" y2="428.32" stroke="#000" stroke-width="0.9"/>
<text transform="translate(183.1 441.3) scale(0.1)" font-size="83" textLength="70" lengthAdjust="spacingAndGlyphs">10</text>
<text transform="translate(190.7 438) scale(0.1)" font-size="62" textLength="52" lengthAdjust="spacingAndGlyphs">-1</text>
<line x1="197.1" y1="427.83" x2="200.3" y2="427.83" stroke="#111" stroke-width="1"/>
<line x1="198.1" y1="424.59" x2="200.3" y2="424.59" stroke="#000" stroke-width="0.9"/>
<line x1="198.1" y1="422.69" x2="200.3" y2="422.69" stroke="#000" stroke-width="0.9"/>
<line x1="198.1" y1="421.35" x2="200.3" y2="421.35" stroke="#000" stroke-width="0.9"/>
<line x1="198.1" y1="420.3" x2="200.3" y2="420.3" stroke="#000" stroke-width="0.9"/>
<line x1="198.1" y1="419.45" x2="200.3" y2="419.45" stroke="#000" stroke-width="0.9"/>
<line x1="198.1" y1="418.73" x2="200.3" y2="418.73" stroke="#000" stroke-width="0.9"/>
<line x1="198.1" y1="418.1" x2="200.3" y2="418.1" stroke="#000" stroke-width="0.9"/>
<line x1="198.1" y1="417.55" x2="200.3" y2="417.55" stroke="#000" stroke-width="0.9"/>
<text transform="translate(183.1 430.53) scale(0.1)" font-size="83" textLength="70" lengthAdjust="spacingAndGlyphs">10</text>
<text transform="translate(190.7 427.23) scale(0.1)" font-size="62" textLength="31" lengthAdjust="spacingAndGlyphs">0</text>
<line x1="197.1" y1="417.06" x2="200.3" y2="417.06" stroke="#111" stroke-width="1"/>
<line x1="198.1" y1="413.82" x2="200.3" y2="413.82" stroke="#000" stroke-width="0.9"/>
<line x1="198.1" y1="411.92" x2="200.3" y2="411.92" stroke="#000" stroke-width="0.9"/>
<line x1="198.1" y1="410.58" x2="200.3" y2="410.58" stroke="#000" stroke-width="0.9"/>
<line x1="198.1" y1="409.53" x2="200.3" y2="409.53" stroke="#000" stroke-width="0.9"/>
<line x1="198.1" y1="408.68" x2="200.3" y2="408.68" stroke="#000" stroke-width="0.9"/>
<line x1="198.1" y1="407.96" x2="200.3" y2="407.96" stroke="#000" stroke-width="0.9"/>
<line x1="198.1" y1="407.33" x2="200.3" y2="407.33" stroke="#000" stroke-width="0.9"/>
<line x1="198.1" y1="406.78" x2="200.3" y2="406.78" stroke="#000" stroke-width="0.9"/>
<text transform="translate(183.1 419.76) scale(0.1)" font-size="83" textLength="70" lengthAdjust="spacingAndGlyphs">10</text>
<text transform="translate(190.7 416.46) scale(0.1)" font-size="62" textLength="31" lengthAdjust="spacingAndGlyphs">1</text>
<line x1="197.1" y1="406.29" x2="200.3" y2="406.29" stroke="#111" stroke-width="1"/>
<line x1="198.1" y1="403.05" x2="200.3" y2="403.05" stroke="#000" stroke-width="0.9"/>
<line x1="198.1" y1="401.15" x2="200.3" y2="401.15" stroke="#000" stroke-width="0.9"/>
<line x1="198.1" y1="399.81" x2="200.3" y2="399.81" stroke="#000" stroke-width="0.9"/>
<line x1="198.1" y1="398.76" x2="200.3" y2="398.76" stroke="#000" stroke-width="0.9"/>
<line x1="198.1" y1="397.91" x2="200.3" y2="397.91" stroke="#000" stroke-width="0.9"/>
<line x1="198.1" y1="397.19" x2="200.3" y2="397.19" stroke="#000" stroke-width="0.9"/>
<line x1="198.1" y1="396.56" x2="200.3" y2="396.56" stroke="#000" stroke-width="0.9"/>
<line x1="198.1" y1="396.01" x2="200.3" y2="396.01" stroke="#000" stroke-width="0.9"/>
<text transform="translate(183.1 408.99) scale(0.1)" font-size="83" textLength="70" lengthAdjust="spacingAndGlyphs">10</text>
<text transform="translate(190.7 405.69) scale(0.1)" font-size="62" textLength="31" lengthAdjust="spacingAndGlyphs">2</text>
<line x1="197.1" y1="395.52" x2="200.3" y2="395.52" stroke="#111" stroke-width="1"/>
<line x1="198.1" y1="392.28" x2="200.3" y2="392.28" stroke="#000" stroke-width="0.9"/>
<line x1="198.1" y1="390.38" x2="200.3" y2="390.38" stroke="#000" stroke-width="0.9"/>
<line x1="198.1" y1="389.04" x2="200.3" y2="389.04" stroke="#000" stroke-width="0.9"/>
<line x1="198.1" y1="387.99" x2="200.3" y2="387.99" stroke="#000" stroke-width="0.9"/>
<line x1="198.1" y1="387.14" x2="200.3" y2="387.14" stroke="#000" stroke-width="0.9"/>
<line x1="198.1" y1="386.42" x2="200.3" y2="386.42" stroke="#000" stroke-width="0.9"/>
<line x1="198.1" y1="385.79" x2="200.3" y2="385.79" stroke="#000" stroke-width="0.9"/>
<line x1="198.1" y1="385.24" x2="200.3" y2="385.24" stroke="#000" stroke-width="0.9"/>
<text transform="translate(183.1 398.22) scale(0.1)" font-size="83" textLength="70" lengthAdjust="spacingAndGlyphs">10</text>
<text transform="translate(190.7 394.92) scale(0.1)" font-size="62" textLength="31" lengthAdjust="spacingAndGlyphs">3</text>
<line x1="197.1" y1="384.75" x2="200.3" y2="384.75" stroke="#111" stroke-width="1"/>
<line x1="198.1" y1="381.51" x2="200.3" y2="381.51" stroke="#000" stroke-width="0.9"/>
<line x1="198.1" y1="379.61" x2="200.3" y2="379.61" stroke="#000" stroke-width="0.9"/>
<line x1="198.1" y1="378.27" x2="200.3" y2="378.27" stroke="#000" stroke-width="0.9"/>
<line x1="198.1" y1="377.22" x2="200.3" y2="377.22" stroke="#000" stroke-width="0.9"/>
<line x1="198.1" y1="376.37" x2="200.3" y2="376.37" stroke="#000" stroke-width="0.9"/>
<line x1="198.1" y1="375.65" x2="200.3" y2="375.65" stroke="#000" stroke-width="0.9"/>
<line x1="198.1" y1="375.02" x2="200.3" y2="375.02" stroke="#000" stroke-width="0.9"/>
<line x1="198.1" y1="374.47" x2="200.3" y2="374.47" stroke="#000" stroke-width="0.9"/>
<text transform="translate(183.1 387.45) scale(0.1)" font-size="83" textLength="70" lengthAdjust="spacingAndGlyphs">10</text>
<text transform="translate(190.7 384.15) scale(0.1)" font-size="62" textLength="31" lengthAdjust="spacingAndGlyphs">4</text>
<line x1="197.1" y1="373.98" x2="200.3" y2="373.98" stroke="#111" stroke-width="1"/>
<line x1="198.1" y1="370.74" x2="200.3" y2="370.74" stroke="#000" stroke-width="0.9"/>
<line x1="198.1" y1="368.84" x2="200.3" y2="368.84" stroke="#000" stroke-width="0.9"/>
<line x1="198.1" y1="367.5" x2="200.3" y2="367.5" stroke="#000" stroke-width="0.9"/>
<line x1="198.1" y1="366.45" x2="200.3" y2="366.45" stroke="#000" stroke-width="0.9"/>
<line x1="198.1" y1="365.6" x2="200.3" y2="365.6" stroke="#000" stroke-width="0.9"/>
<line x1="198.1" y1="364.88" x2="200.3" y2="364.88" stroke="#000" stroke-width="0.9"/>
<line x1="198.1" y1="364.25" x2="200.3" y2="364.25" stroke="#000" stroke-width="0.9"/>
<line x1="198.1" y1="363.7" x2="200.3" y2="363.7" stroke="#000" stroke-width="0.9"/>
<text transform="translate(183.1 376.68) scale(0.1)" font-size="83" textLength="70" lengthAdjust="spacingAndGlyphs">10</text>
<text transform="translate(190.7 373.38) scale(0.1)" font-size="62" textLength="31" lengthAdjust="spacingAndGlyphs">5</text>
<line x1="197.1" y1="363.21" x2="200.3" y2="363.21" stroke="#111" stroke-width="1"/>
<text transform="translate(183.1 365.91) scale(0.1)" font-size="83" textLength="70" lengthAdjust="spacingAndGlyphs">10</text>
<text transform="translate(190.7 362.61) scale(0.1)" font-size="62" textLength="31" lengthAdjust="spacingAndGlyphs">6</text>
<line x1="206.3" y1="438.6" x2="206.3" y2="441" stroke="#111" stroke-width="0.8"/>
<line x1="216.55" y1="438.6" x2="216.55" y2="441" stroke="#111" stroke-width="0.8"/>
<line x1="226.8" y1="438.6" x2="226.8" y2="441" stroke="#111" stroke-width="0.8"/>
<line x1="237.05" y1="438.6" x2="237.05" y2="441" stroke="#111" stroke-width="0.8"/>
<line x1="247.3" y1="438.6" x2="247.3" y2="441" stroke="#111" stroke-width="0.8"/>
<line x1="257.55" y1="438.6" x2="257.55" y2="441" stroke="#111" stroke-width="0.8"/>
<line x1="267.8" y1="438.6" x2="267.8" y2="441" stroke="#111" stroke-width="0.8"/>
<line x1="278.05" y1="438.6" x2="278.05" y2="441" stroke="#111" stroke-width="0.8"/>
<line x1="288.3" y1="438.6" x2="288.3" y2="441" stroke="#111" stroke-width="0.8"/>
<line x1="298.55" y1="438.6" x2="298.55" y2="441" stroke="#111" stroke-width="0.8"/>
<line x1="308.8" y1="438.6" x2="308.8" y2="441" stroke="#111" stroke-width="0.8"/>
<text transform="translate(208.9 447.6) rotate(-45) scale(0.1)" font-size="73" text-anchor="end">IL-1ra</text>
<text transform="translate(219.15 447.6) rotate(-45) scale(0.1)" font-size="73" text-anchor="end">IL-2</text>
<text transform="translate(229.4 447.6) rotate(-45) scale(0.1)" font-size="73" text-anchor="end">IL-8</text>
<text transform="translate(239.65 447.6) rotate(-45) scale(0.1)" font-size="73" text-anchor="end">IL-10</text>
<text transform="translate(249.9 447.6) rotate(-45) scale(0.1)" font-size="73" text-anchor="end">IL-13</text>
<text transform="translate(260.15 447.6) rotate(-45) scale(0.1)" font-size="73" text-anchor="end">Eotaxin</text>
<text transform="translate(270.4 447.6) rotate(-45) scale(0.1)" font-size="73" text-anchor="end">GM-CSF</text>
<text transform="translate(280.65 447.6) rotate(-45) scale(0.1)" font-size="73" text-anchor="end">IFN-g</text>
<text transform="translate(290.9 447.6) rotate(-45) scale(0.1)" font-size="73" text-anchor="end">IP-10</text>
<text transform="translate(301.15 447.6) rotate(-45) scale(0.1)" font-size="73" text-anchor="end">MIP-1b</text>
<text transform="translate(311.4 447.6) rotate(-45) scale(0.1)" font-size="73" text-anchor="end">TNF-a</text>
<rect x="356" y="417.19" width="2" height="21.51" fill="#77a85b"/>
<rect x="359.1" y="413.54" width="2" height="25.16" fill="#a2343f"/>
<rect x="362.2" y="414.8" width="2" height="23.9" fill="#4a6186"/>
<line x1="367.25" y1="425.24" x2="367.25" y2="427.5" stroke="#a9cf94" stroke-width="0.7"/>
<line x1="366.35" y1="425.24" x2="368.15" y2="425.24" stroke="#a9cf94" stroke-width="0.7"/>
<rect x="366.25" y="427.5" width="2" height="11.2" fill="#77a85b"/>
<line x1="370.35" y1="406.37" x2="370.35" y2="407.25" stroke="#c98a95" stroke-width="0.7"/>
<line x1="369.45" y1="406.37" x2="371.25" y2="406.37" stroke="#c98a95" stroke-width="0.7"/>
<rect x="369.35" y="407.25" width="2" height="31.45" fill="#a2343f"/>
<rect x="372.45" y="423.1" width="2" height="15.6" fill="#4a6186"/>
<rect x="376.5" y="400.08" width="2" height="38.62" fill="#77a85b"/>
<rect x="379.6" y="384.23" width="2" height="54.47" fill="#a2343f"/>
<rect x="382.7" y="394.67" width="2" height="44.03" fill="#4a6186"/>
<line x1="387.75" y1="425.74" x2="387.75" y2="433.67" stroke="#a9cf94" stroke-width="0.7"/>
<line x1="386.85" y1="425.74" x2="388.65" y2="425.74" stroke="#a9cf94" stroke-width="0.7"/>
<rect x="386.75" y="433.67" width="2" height="5.03" fill="#77a85b"/>
<rect x="389.85" y="406.37" width="2" height="32.33" fill="#a2343f"/>
<rect x="392.95" y="417.44" width="2" height="21.26" fill="#4a6186"/>
<line x1="398" y1="397.31" x2="398" y2="399.07" stroke="#a9cf94" stroke-width="0.7"/>
<line x1="397.1" y1="397.31" x2="398.9" y2="397.31" stroke="#a9cf94" stroke-width="0.7"/>
<rect x="397" y="399.07" width="2" height="39.63" fill="#77a85b"/>
<rect x="400.1" y="385.11" width="2" height="53.59" fill="#a2343f"/>
<rect x="403.2" y="392.03" width="2" height="46.67" fill="#4a6186"/>
<line x1="408.25" y1="422.6" x2="408.25" y2="430.27" stroke="#a9cf94" stroke-width="0.7"/>
<line x1="407.35" y1="422.6" x2="409.15" y2="422.6" stroke="#a9cf94" stroke-width="0.7"/>
<rect x="407.25" y="430.27" width="2" height="8.43" fill="#77a85b"/>
<line x1="411.35" y1="418.32" x2="411.35" y2="420.58" stroke="#c98a95" stroke-width="0.7"/>
<line x1="410.45" y1="418.32" x2="412.25" y2="418.32" stroke="#c98a95" stroke-width="0.7"/>
<rect x="410.35" y="420.58" width="2" height="18.12" fill="#a2343f"/>
<line x1="414.45" y1="419.83" x2="414.45" y2="425.11" stroke="#8fa3c4" stroke-width="0.7"/>
<line x1="413.55" y1="419.83" x2="415.35" y2="419.83" stroke="#8fa3c4" stroke-width="0.7"/>
<rect x="413.45" y="425.11" width="2" height="13.59" fill="#4a6186"/>
<line x1="418.5" y1="399.07" x2="418.5" y2="400.96" stroke="#a9cf94" stroke-width="0.7"/>
<line x1="417.6" y1="399.07" x2="419.4" y2="399.07" stroke="#a9cf94" stroke-width="0.7"/>
<rect x="417.5" y="400.96" width="2" height="37.74" fill="#77a85b"/>
<rect x="420.6" y="388.51" width="2" height="50.19" fill="#a2343f"/>
<rect x="423.7" y="395.93" width="2" height="42.77" fill="#4a6186"/>
<rect x="427.75" y="388.88" width="2" height="49.82" fill="#77a85b"/>
<rect x="430.85" y="373.79" width="2" height="64.91" fill="#a2343f"/>
<rect x="433.95" y="382.22" width="2" height="56.48" fill="#4a6186"/>
<rect x="438" y="390.52" width="2" height="48.18" fill="#77a85b"/>
<rect x="441.1" y="388.13" width="2" height="50.57" fill="#a2343f"/>
<rect x="444.2" y="390.52" width="2" height="48.18" fill="#4a6186"/>
<rect x="448.25" y="390.52" width="2" height="48.18" fill="#77a85b"/>
<rect x="451.35" y="378.82" width="2" height="59.88" fill="#a2343f"/>
<rect x="454.45" y="380.83" width="2" height="57.87" fill="#4a6186"/>
<rect x="458.5" y="400.46" width="2" height="38.24" fill="#77a85b"/>
<rect x="461.6" y="387.37" width="2" height="51.33" fill="#a2343f"/>
<rect x="464.7" y="395.55" width="2" height="43.15" fill="#4a6186"/>
<line x1="354.2" y1="360.5" x2="354.2" y2="439.3" stroke="#111" stroke-width="1.3"/>
<line x1="353.6" y1="438.7" x2="467.7" y2="438.7" stroke="#111" stroke-width="1.3"/>
<line x1="351" y1="438.7" x2="354.2" y2="438.7" stroke="#111" stroke-width="1"/>
<line x1="352" y1="434.91" x2="354.2" y2="434.91" stroke="#000" stroke-width="0.9"/>
<line x1="352" y1="432.7" x2="354.2" y2="432.7" stroke="#000" stroke-width="0.9"/>
<line x1="352" y1="431.13" x2="354.2" y2="431.13" stroke="#000" stroke-width="0.9"/>
<line x1="352" y1="429.91" x2="354.2" y2="429.91" stroke="#000" stroke-width="0.9"/>
<line x1="352" y1="428.91" x2="354.2" y2="428.91" stroke="#000" stroke-width="0.9"/>
<line x1="352" y1="428.07" x2="354.2" y2="428.07" stroke="#000" stroke-width="0.9"/>
<line x1="352" y1="427.34" x2="354.2" y2="427.34" stroke="#000" stroke-width="0.9"/>
<line x1="352" y1="426.7" x2="354.2" y2="426.7" stroke="#000" stroke-width="0.9"/>
<text transform="translate(337 441.4) scale(0.1)" font-size="83" textLength="70" lengthAdjust="spacingAndGlyphs">10</text>
<text transform="translate(344.6 438.1) scale(0.1)" font-size="62" textLength="31" lengthAdjust="spacingAndGlyphs">0</text>
<line x1="351" y1="426.12" x2="354.2" y2="426.12" stroke="#111" stroke-width="1"/>
<line x1="352" y1="422.33" x2="354.2" y2="422.33" stroke="#000" stroke-width="0.9"/>
<line x1="352" y1="420.12" x2="354.2" y2="420.12" stroke="#000" stroke-width="0.9"/>
<line x1="352" y1="418.55" x2="354.2" y2="418.55" stroke="#000" stroke-width="0.9"/>
<line x1="352" y1="417.33" x2="354.2" y2="417.33" stroke="#000" stroke-width="0.9"/>
<line x1="352" y1="416.33" x2="354.2" y2="416.33" stroke="#000" stroke-width="0.9"/>
<line x1="352" y1="415.49" x2="354.2" y2="415.49" stroke="#000" stroke-width="0.9"/>
<line x1="352" y1="414.76" x2="354.2" y2="414.76" stroke="#000" stroke-width="0.9"/>
<line x1="352" y1="414.12" x2="354.2" y2="414.12" stroke="#000" stroke-width="0.9"/>
<text transform="translate(337 428.82) scale(0.1)" font-size="83" textLength="70" lengthAdjust="spacingAndGlyphs">10</text>
<text transform="translate(344.6 425.52) scale(0.1)" font-size="62" textLength="31" lengthAdjust="spacingAndGlyphs">1</text>
<line x1="351" y1="413.54" x2="354.2" y2="413.54" stroke="#111" stroke-width="1"/>
<line x1="352" y1="409.75" x2="354.2" y2="409.75" stroke="#000" stroke-width="0.9"/>
<line x1="352" y1="407.54" x2="354.2" y2="407.54" stroke="#000" stroke-width="0.9"/>
<line x1="352" y1="405.97" x2="354.2" y2="405.97" stroke="#000" stroke-width="0.9"/>
<line x1="352" y1="404.75" x2="354.2" y2="404.75" stroke="#000" stroke-width="0.9"/>
<line x1="352" y1="403.75" x2="354.2" y2="403.75" stroke="#000" stroke-width="0.9"/>
<line x1="352" y1="402.91" x2="354.2" y2="402.91" stroke="#000" stroke-width="0.9"/>
<line x1="352" y1="402.18" x2="354.2" y2="402.18" stroke="#000" stroke-width="0.9"/>
<line x1="352" y1="401.54" x2="354.2" y2="401.54" stroke="#000" stroke-width="0.9"/>
<text transform="translate(337 416.24) scale(0.1)" font-size="83" textLength="70" lengthAdjust="spacingAndGlyphs">10</text>
<text transform="translate(344.6 412.94) scale(0.1)" font-size="62" textLength="31" lengthAdjust="spacingAndGlyphs">2</text>
<line x1="351" y1="400.96" x2="354.2" y2="400.96" stroke="#111" stroke-width="1"/>
<line x1="352" y1="397.17" x2="354.2" y2="397.17" stroke="#000" stroke-width="0.9"/>
<line x1="352" y1="394.96" x2="354.2" y2="394.96" stroke="#000" stroke-width="0.9"/>
<line x1="352" y1="393.39" x2="354.2" y2="393.39" stroke="#000" stroke-width="0.9"/>
<line x1="352" y1="392.17" x2="354.2" y2="392.17" stroke="#000" stroke-width="0.9"/>
<line x1="352" y1="391.17" x2="354.2" y2="391.17" stroke="#000" stroke-width="0.9"/>
<line x1="352" y1="390.33" x2="354.2" y2="390.33" stroke="#000" stroke-width="0.9"/>
<line x1="352" y1="389.6" x2="354.2" y2="389.6" stroke="#000" stroke-width="0.9"/>
<line x1="352" y1="388.96" x2="354.2" y2="388.96" stroke="#000" stroke-width="0.9"/>
<text transform="translate(337 403.66) scale(0.1)" font-size="83" textLength="70" lengthAdjust="spacingAndGlyphs">10</text>
<text transform="translate(344.6 400.36) scale(0.1)" font-size="62" textLength="31" lengthAdjust="spacingAndGlyphs">3</text>
<line x1="351" y1="388.38" x2="354.2" y2="388.38" stroke="#111" stroke-width="1"/>
<line x1="352" y1="384.59" x2="354.2" y2="384.59" stroke="#000" stroke-width="0.9"/>
<line x1="352" y1="382.38" x2="354.2" y2="382.38" stroke="#000" stroke-width="0.9"/>
<line x1="352" y1="380.81" x2="354.2" y2="380.81" stroke="#000" stroke-width="0.9"/>
<line x1="352" y1="379.59" x2="354.2" y2="379.59" stroke="#000" stroke-width="0.9"/>
<line x1="352" y1="378.59" x2="354.2" y2="378.59" stroke="#000" stroke-width="0.9"/>
<line x1="352" y1="377.75" x2="354.2" y2="377.75" stroke="#000" stroke-width="0.9"/>
<line x1="352" y1="377.02" x2="354.2" y2="377.02" stroke="#000" stroke-width="0.9"/>
<line x1="352" y1="376.38" x2="354.2" y2="376.38" stroke="#000" stroke-width="0.9"/>
<text transform="translate(337 391.08) scale(0.1)" font-size="83" textLength="70" lengthAdjust="spacingAndGlyphs">10</text>
<text transform="translate(344.6 387.78) scale(0.1)" font-size="62" textLength="31" lengthAdjust="spacingAndGlyphs">4</text>
<line x1="351" y1="375.8" x2="354.2" y2="375.8" stroke="#111" stroke-width="1"/>
<line x1="352" y1="372.01" x2="354.2" y2="372.01" stroke="#000" stroke-width="0.9"/>
<line x1="352" y1="369.8" x2="354.2" y2="369.8" stroke="#000" stroke-width="0.9"/>
<line x1="352" y1="368.23" x2="354.2" y2="368.23" stroke="#000" stroke-width="0.9"/>
<line x1="352" y1="367.01" x2="354.2" y2="367.01" stroke="#000" stroke-width="0.9"/>
<line x1="352" y1="366.01" x2="354.2" y2="366.01" stroke="#000" stroke-width="0.9"/>
<line x1="352" y1="365.17" x2="354.2" y2="365.17" stroke="#000" stroke-width="0.9"/>
<line x1="352" y1="364.44" x2="354.2" y2="364.44" stroke="#000" stroke-width="0.9"/>
<line x1="352" y1="363.8" x2="354.2" y2="363.8" stroke="#000" stroke-width="0.9"/>
<text transform="translate(337 378.5) scale(0.1)" font-size="83" textLength="70" lengthAdjust="spacingAndGlyphs">10</text>
<text transform="translate(344.6 375.2) scale(0.1)" font-size="62" textLength="31" lengthAdjust="spacingAndGlyphs">5</text>
<line x1="351" y1="363.22" x2="354.2" y2="363.22" stroke="#111" stroke-width="1"/>
<text transform="translate(337 365.92) scale(0.1)" font-size="83" textLength="70" lengthAdjust="spacingAndGlyphs">10</text>
<text transform="translate(344.6 362.62) scale(0.1)" font-size="62" textLength="31" lengthAdjust="spacingAndGlyphs">6</text>
<line x1="360.1" y1="438.7" x2="360.1" y2="441.1" stroke="#111" stroke-width="0.8"/>
<line x1="370.35" y1="438.7" x2="370.35" y2="441.1" stroke="#111" stroke-width="0.8"/>
<line x1="380.6" y1="438.7" x2="380.6" y2="441.1" stroke="#111" stroke-width="0.8"/>
<line x1="390.85" y1="438.7" x2="390.85" y2="441.1" stroke="#111" stroke-width="0.8"/>
<line x1="401.1" y1="438.7" x2="401.1" y2="441.1" stroke="#111" stroke-width="0.8"/>
<line x1="411.35" y1="438.7" x2="411.35" y2="441.1" stroke="#111" stroke-width="0.8"/>
<line x1="421.6" y1="438.7" x2="421.6" y2="441.1" stroke="#111" stroke-width="0.8"/>
<line x1="431.85" y1="438.7" x2="431.85" y2="441.1" stroke="#111" stroke-width="0.8"/>
<line x1="442.1" y1="438.7" x2="442.1" y2="441.1" stroke="#111" stroke-width="0.8"/>
<line x1="452.35" y1="438.7" x2="452.35" y2="441.1" stroke="#111" stroke-width="0.8"/>
<line x1="462.6" y1="438.7" x2="462.6" y2="441.1" stroke="#111" stroke-width="0.8"/>
<text transform="translate(362.7 447.7) rotate(-45) scale(0.1)" font-size="73" text-anchor="end">IL-1ra</text>
<text transform="translate(372.95 447.7) rotate(-45) scale(0.1)" font-size="73" text-anchor="end">IL-2</text>
<text transform="translate(383.2 447.7) rotate(-45) scale(0.1)" font-size="73" text-anchor="end">IL-8</text>
<text transform="translate(393.45 447.7) rotate(-45) scale(0.1)" font-size="73" text-anchor="end">IL-10</text>
<text transform="translate(403.7 447.7) rotate(-45) scale(0.1)" font-size="73" text-anchor="end">IL-13</text>
<text transform="translate(413.95 447.7) rotate(-45) scale(0.1)" font-size="73" text-anchor="end">Eotaxin</text>
<text transform="translate(424.2 447.7) rotate(-45) scale(0.1)" font-size="73" text-anchor="end">GM-CSF</text>
<text transform="translate(434.45 447.7) rotate(-45) scale(0.1)" font-size="73" text-anchor="end">IFN-g</text>
<text transform="translate(444.7 447.7) rotate(-45) scale(0.1)" font-size="73" text-anchor="end">IP-10</text>
<text transform="translate(454.95 447.7) rotate(-45) scale(0.1)" font-size="73" text-anchor="end">MIP-1b</text>
<text transform="translate(465.2 447.7) rotate(-45) scale(0.1)" font-size="73" text-anchor="end">TNF-a</text>
<text transform="translate(6.9 493.5) scale(0.1)" font-size="117" style="stroke-width:0.6px">D</text>
<text transform="translate(257 504) scale(0.1)" font-size="83" text-anchor="middle" textLength="220" lengthAdjust="spacingAndGlyphs">U2932</text>
<rect x="439.5" y="497.6" width="6.4" height="6.1" fill="#77a85b"/>
<text transform="translate(448.7 503.7) scale(0.1)" font-size="79" textLength="389" lengthAdjust="spacingAndGlyphs">Mock T cells</text>
<rect x="439.5" y="509.6" width="6.4" height="6.1" fill="#a2343f"/>
<text transform="translate(448.7 515.7) scale(0.1)" font-size="79" textLength="523" lengthAdjust="spacingAndGlyphs">CD19CAR T cells</text>
<rect x="439.5" y="521.1" width="6.4" height="6.1" fill="#4a6186"/>
<text transform="translate(448.7 527.2) scale(0.1)" font-size="79" textLength="523" lengthAdjust="spacingAndGlyphs">CD37CAR T cells</text>
<text transform="translate(102.9 515.5) scale(0.1)" font-size="83" text-anchor="middle" textLength="280" lengthAdjust="spacingAndGlyphs">Donor 1</text>
<text transform="translate(257.1 516) scale(0.1)" font-size="83" text-anchor="middle" textLength="277" lengthAdjust="spacingAndGlyphs">Donor 2</text>
<text transform="translate(411.2 516) scale(0.1)" font-size="83" text-anchor="middle" textLength="280" lengthAdjust="spacingAndGlyphs">Donor 3</text>
<text transform="translate(21 560.8) rotate(-90) scale(0.1)" font-size="95" text-anchor="middle" textLength="1130" lengthAdjust="spacingAndGlyphs">Cytokine secretion (pg/mL)</text>
<rect x="48.3" y="582.89" width="2" height="16.91" fill="#77a85b"/>
<rect x="51.4" y="575.19" width="2" height="24.61" fill="#a2343f"/>
<line x1="55.5" y1="578.21" x2="55.5" y2="580.02" stroke="#8fa3c4" stroke-width="0.7"/>
<line x1="54.6" y1="578.21" x2="56.4" y2="578.21" stroke="#8fa3c4" stroke-width="0.7"/>
<rect x="54.5" y="580.02" width="2" height="19.78" fill="#4a6186"/>
<line x1="59.54" y1="582.89" x2="59.54" y2="590.59" stroke="#a9cf94" stroke-width="0.7"/>
<line x1="58.64" y1="582.89" x2="60.44" y2="582.89" stroke="#a9cf94" stroke-width="0.7"/>
<rect x="58.54" y="590.59" width="2" height="9.21" fill="#77a85b"/>
<line x1="62.64" y1="574.43" x2="62.64" y2="577.15" stroke="#c98a95" stroke-width="0.7"/>
<line x1="61.74" y1="574.43" x2="63.54" y2="574.43" stroke="#c98a95" stroke-width="0.7"/>
<rect x="61.64" y="577.15" width="2" height="22.65" fill="#a2343f"/>
<line x1="65.74" y1="582.13" x2="65.74" y2="590.29" stroke="#8fa3c4" stroke-width="0.7"/>
<line x1="64.84" y1="582.13" x2="66.64" y2="582.13" stroke="#8fa3c4" stroke-width="0.7"/>
<rect x="64.74" y="590.29" width="2" height="9.51" fill="#4a6186"/>
<line x1="69.78" y1="568.69" x2="69.78" y2="570.05" stroke="#a9cf94" stroke-width="0.7"/>
<line x1="68.88" y1="568.69" x2="70.68" y2="568.69" stroke="#a9cf94" stroke-width="0.7"/>
<rect x="68.78" y="570.05" width="2" height="29.75" fill="#77a85b"/>
<rect x="71.88" y="544.08" width="2" height="55.72" fill="#a2343f"/>
<rect x="74.98" y="550.27" width="2" height="49.53" fill="#4a6186"/>
<rect x="79.02" y="562.35" width="2" height="37.45" fill="#77a85b"/>
<rect x="82.12" y="559.78" width="2" height="40.01" fill="#a2343f"/>
<rect x="85.22" y="562.8" width="2" height="37" fill="#4a6186"/>
<line x1="90.26" y1="551.63" x2="90.26" y2="559.03" stroke="#a9cf94" stroke-width="0.7"/>
<line x1="89.36" y1="551.63" x2="91.16" y2="551.63" stroke="#a9cf94" stroke-width="0.7"/>
<rect x="89.26" y="559.03" width="2" height="40.77" fill="#77a85b"/>
<rect x="92.36" y="535.17" width="2" height="64.63" fill="#a2343f"/>
<rect x="95.46" y="548.31" width="2" height="51.49" fill="#4a6186"/>
<line x1="103.6" y1="574.43" x2="103.6" y2="577.15" stroke="#c98a95" stroke-width="0.7"/>
<line x1="102.7" y1="574.43" x2="104.5" y2="574.43" stroke="#c98a95" stroke-width="0.7"/>
<rect x="102.6" y="577.15" width="2" height="22.65" fill="#a2343f"/>
<line x1="106.7" y1="577.9" x2="106.7" y2="585.15" stroke="#8fa3c4" stroke-width="0.7"/>
<line x1="105.8" y1="577.9" x2="107.6" y2="577.9" stroke="#8fa3c4" stroke-width="0.7"/>
<rect x="105.7" y="585.15" width="2" height="14.65" fill="#4a6186"/>
<line x1="110.74" y1="561.75" x2="110.74" y2="568.24" stroke="#a9cf94" stroke-width="0.7"/>
<line x1="109.84" y1="561.75" x2="111.64" y2="561.75" stroke="#a9cf94" stroke-width="0.7"/>
<rect x="109.74" y="568.24" width="2" height="31.56" fill="#77a85b"/>
<rect x="112.84" y="546.19" width="2" height="53.61" fill="#a2343f"/>
<line x1="116.94" y1="559.03" x2="116.94" y2="560.54" stroke="#8fa3c4" stroke-width="0.7"/>
<line x1="116.04" y1="559.03" x2="117.84" y2="559.03" stroke="#8fa3c4" stroke-width="0.7"/>
<rect x="115.94" y="560.54" width="2" height="39.26" fill="#4a6186"/>
<line x1="120.98" y1="563.71" x2="120.98" y2="565.22" stroke="#a9cf94" stroke-width="0.7"/>
<line x1="120.08" y1="563.71" x2="121.88" y2="563.71" stroke="#a9cf94" stroke-width="0.7"/>
<rect x="119.98" y="565.22" width="2" height="34.58" fill="#77a85b"/>
<rect x="123.08" y="528.83" width="2" height="70.97" fill="#a2343f"/>
<rect x="126.18" y="552.08" width="2" height="47.72" fill="#4a6186"/>
<rect x="130.22" y="543.63" width="2" height="56.17" fill="#77a85b"/>
<rect x="133.32" y="527.17" width="2" height="72.63" fill="#a2343f"/>
<rect x="136.42" y="532.3" width="2" height="67.5" fill="#4a6186"/>
<line x1="141.46" y1="550.27" x2="141.46" y2="553.14" stroke="#a9cf94" stroke-width="0.7"/>
<line x1="140.56" y1="550.27" x2="142.36" y2="550.27" stroke="#a9cf94" stroke-width="0.7"/>
<rect x="140.46" y="553.14" width="2" height="46.66" fill="#77a85b"/>
<rect x="143.56" y="544.84" width="2" height="54.96" fill="#a2343f"/>
<rect x="146.66" y="550.88" width="2" height="48.92" fill="#4a6186"/>
<rect x="150.7" y="552.84" width="2" height="46.96" fill="#77a85b"/>
<rect x="153.8" y="542.87" width="2" height="56.93" fill="#a2343f"/>
<rect x="156.9" y="550.27" width="2" height="49.53" fill="#4a6186"/>
<line x1="46.5" y1="521.5" x2="46.5" y2="600.4" stroke="#111" stroke-width="1.3"/>
<line x1="45.9" y1="599.8" x2="160.4" y2="599.8" stroke="#111" stroke-width="1.3"/>
<line x1="43.3" y1="599.8" x2="46.5" y2="599.8" stroke="#111" stroke-width="1"/>
<line x1="44.3" y1="595.25" x2="46.5" y2="595.25" stroke="#000" stroke-width="0.9"/>
<line x1="44.3" y1="592.6" x2="46.5" y2="592.6" stroke="#000" stroke-width="0.9"/>
<line x1="44.3" y1="590.71" x2="46.5" y2="590.71" stroke="#000" stroke-width="0.9"/>
<line x1="44.3" y1="589.25" x2="46.5" y2="589.25" stroke="#000" stroke-width="0.9"/>
<line x1="44.3" y1="588.05" x2="46.5" y2="588.05" stroke="#000" stroke-width="0.9"/>
<line x1="44.3" y1="587.04" x2="46.5" y2="587.04" stroke="#000" stroke-width="0.9"/>
<line x1="44.3" y1="586.16" x2="46.5" y2="586.16" stroke="#000" stroke-width="0.9"/>
<line x1="44.3" y1="585.39" x2="46.5" y2="585.39" stroke="#000" stroke-width="0.9"/>
<text transform="translate(29.3 602.5) scale(0.1)" font-size="83" textLength="70" lengthAdjust="spacingAndGlyphs">10</text>
<text transform="translate(36.9 599.2) scale(0.1)" font-size="62" textLength="31" lengthAdjust="spacingAndGlyphs">0</text>
<line x1="43.3" y1="584.7" x2="46.5" y2="584.7" stroke="#111" stroke-width="1"/>
<line x1="44.3" y1="580.15" x2="46.5" y2="580.15" stroke="#000" stroke-width="0.9"/>
<line x1="44.3" y1="577.5" x2="46.5" y2="577.5" stroke="#000" stroke-width="0.9"/>
<line x1="44.3" y1="575.61" x2="46.5" y2="575.61" stroke="#000" stroke-width="0.9"/>
<line x1="44.3" y1="574.15" x2="46.5" y2="574.15" stroke="#000" stroke-width="0.9"/>
<line x1="44.3" y1="572.95" x2="46.5" y2="572.95" stroke="#000" stroke-width="0.9"/>
<line x1="44.3" y1="571.94" x2="46.5" y2="571.94" stroke="#000" stroke-width="0.9"/>
<line x1="44.3" y1="571.06" x2="46.5" y2="571.06" stroke="#000" stroke-width="0.9"/>
<line x1="44.3" y1="570.29" x2="46.5" y2="570.29" stroke="#000" stroke-width="0.9"/>
<text transform="translate(29.3 587.4) scale(0.1)" font-size="83" textLength="70" lengthAdjust="spacingAndGlyphs">10</text>
<text transform="translate(36.9 584.1) scale(0.1)" font-size="62" textLength="31" lengthAdjust="spacingAndGlyphs">1</text>
<line x1="43.3" y1="569.6" x2="46.5" y2="569.6" stroke="#111" stroke-width="1"/>
<line x1="44.3" y1="565.05" x2="46.5" y2="565.05" stroke="#000" stroke-width="0.9"/>
<line x1="44.3" y1="562.4" x2="46.5" y2="562.4" stroke="#000" stroke-width="0.9"/>
<line x1="44.3" y1="560.51" x2="46.5" y2="560.51" stroke="#000" stroke-width="0.9"/>
<line x1="44.3" y1="559.05" x2="46.5" y2="559.05" stroke="#000" stroke-width="0.9"/>
<line x1="44.3" y1="557.85" x2="46.5" y2="557.85" stroke="#000" stroke-width="0.9"/>
<line x1="44.3" y1="556.84" x2="46.5" y2="556.84" stroke="#000" stroke-width="0.9"/>
<line x1="44.3" y1="555.96" x2="46.5" y2="555.96" stroke="#000" stroke-width="0.9"/>
<line x1="44.3" y1="555.19" x2="46.5" y2="555.19" stroke="#000" stroke-width="0.9"/>
<text transform="translate(29.3 572.3) scale(0.1)" font-size="83" textLength="70" lengthAdjust="spacingAndGlyphs">10</text>
<text transform="translate(36.9 569) scale(0.1)" font-size="62" textLength="31" lengthAdjust="spacingAndGlyphs">2</text>
<line x1="43.3" y1="554.5" x2="46.5" y2="554.5" stroke="#111" stroke-width="1"/>
<line x1="44.3" y1="549.95" x2="46.5" y2="549.95" stroke="#000" stroke-width="0.9"/>
<line x1="44.3" y1="547.3" x2="46.5" y2="547.3" stroke="#000" stroke-width="0.9"/>
<line x1="44.3" y1="545.41" x2="46.5" y2="545.41" stroke="#000" stroke-width="0.9"/>
<line x1="44.3" y1="543.95" x2="46.5" y2="543.95" stroke="#000" stroke-width="0.9"/>
<line x1="44.3" y1="542.75" x2="46.5" y2="542.75" stroke="#000" stroke-width="0.9"/>
<line x1="44.3" y1="541.74" x2="46.5" y2="541.74" stroke="#000" stroke-width="0.9"/>
<line x1="44.3" y1="540.86" x2="46.5" y2="540.86" stroke="#000" stroke-width="0.9"/>
<line x1="44.3" y1="540.09" x2="46.5" y2="540.09" stroke="#000" stroke-width="0.9"/>
<text transform="translate(29.3 557.2) scale(0.1)" font-size="83" textLength="70" lengthAdjust="spacingAndGlyphs">10</text>
<text transform="translate(36.9 553.9) scale(0.1)" font-size="62" textLength="31" lengthAdjust="spacingAndGlyphs">3</text>
<line x1="43.3" y1="539.4" x2="46.5" y2="539.4" stroke="#111" stroke-width="1"/>
<line x1="44.3" y1="534.85" x2="46.5" y2="534.85" stroke="#000" stroke-width="0.9"/>
<line x1="44.3" y1="532.2" x2="46.5" y2="532.2" stroke="#000" stroke-width="0.9"/>
<line x1="44.3" y1="530.31" x2="46.5" y2="530.31" stroke="#000" stroke-width="0.9"/>
<line x1="44.3" y1="528.85" x2="46.5" y2="528.85" stroke="#000" stroke-width="0.9"/>
<line x1="44.3" y1="527.65" x2="46.5" y2="527.65" stroke="#000" stroke-width="0.9"/>
<line x1="44.3" y1="526.64" x2="46.5" y2="526.64" stroke="#000" stroke-width="0.9"/>
<line x1="44.3" y1="525.76" x2="46.5" y2="525.76" stroke="#000" stroke-width="0.9"/>
<line x1="44.3" y1="524.99" x2="46.5" y2="524.99" stroke="#000" stroke-width="0.9"/>
<text transform="translate(29.3 542.1) scale(0.1)" font-size="83" textLength="70" lengthAdjust="spacingAndGlyphs">10</text>
<text transform="translate(36.9 538.8) scale(0.1)" font-size="62" textLength="31" lengthAdjust="spacingAndGlyphs">4</text>
<line x1="43.3" y1="524.3" x2="46.5" y2="524.3" stroke="#111" stroke-width="1"/>
<text transform="translate(29.3 527) scale(0.1)" font-size="83" textLength="70" lengthAdjust="spacingAndGlyphs">10</text>
<text transform="translate(36.9 523.7) scale(0.1)" font-size="62" textLength="31" lengthAdjust="spacingAndGlyphs">5</text>
<line x1="52.4" y1="599.8" x2="52.4" y2="602.2" stroke="#111" stroke-width="0.8"/>
<line x1="62.64" y1="599.8" x2="62.64" y2="602.2" stroke="#111" stroke-width="0.8"/>
<line x1="72.88" y1="599.8" x2="72.88" y2="602.2" stroke="#111" stroke-width="0.8"/>
<line x1="83.12" y1="599.8" x2="83.12" y2="602.2" stroke="#111" stroke-width="0.8"/>
<line x1="93.36" y1="599.8" x2="93.36" y2="602.2" stroke="#111" stroke-width="0.8"/>
<line x1="103.6" y1="599.8" x2="103.6" y2="602.2" stroke="#111" stroke-width="0.8"/>
<line x1="113.84" y1="599.8" x2="113.84" y2="602.2" stroke="#111" stroke-width="0.8"/>
<line x1="124.08" y1="599.8" x2="124.08" y2="602.2" stroke="#111" stroke-width="0.8"/>
<line x1="134.32" y1="599.8" x2="134.32" y2="602.2" stroke="#111" stroke-width="0.8"/>
<line x1="144.56" y1="599.8" x2="144.56" y2="602.2" stroke="#111" stroke-width="0.8"/>
<line x1="154.8" y1="599.8" x2="154.8" y2="602.2" stroke="#111" stroke-width="0.8"/>
<text transform="translate(55 608.8) rotate(-45) scale(0.1)" font-size="73" text-anchor="end">IL-1ra</text>
<text transform="translate(65.24 608.8) rotate(-45) scale(0.1)" font-size="73" text-anchor="end">IL-2</text>
<text transform="translate(75.48 608.8) rotate(-45) scale(0.1)" font-size="73" text-anchor="end">IL-8</text>
<text transform="translate(85.72 608.8) rotate(-45) scale(0.1)" font-size="73" text-anchor="end">IL-10</text>
<text transform="translate(95.96 608.8) rotate(-45) scale(0.1)" font-size="73" text-anchor="end">IL-13</text>
<text transform="translate(106.2 608.8) rotate(-45) scale(0.1)" font-size="73" text-anchor="end">Eotaxin</text>
<text transform="translate(116.44 608.8) rotate(-45) scale(0.1)" font-size="73" text-anchor="end">GM-CSF</text>
<text transform="translate(126.68 608.8) rotate(-45) scale(0.1)" font-size="73" text-anchor="end">IFN-g</text>
<text transform="translate(136.92 608.8) rotate(-45) scale(0.1)" font-size="73" text-anchor="end">IP-10</text>
<text transform="translate(147.16 608.8) rotate(-45) scale(0.1)" font-size="73" text-anchor="end">MIP-1b</text>
<text transform="translate(157.4 608.8) rotate(-45) scale(0.1)" font-size="73" text-anchor="end">TNF-a</text>
<rect x="202.2" y="580.25" width="2" height="19.15" fill="#77a85b"/>
<rect x="205.3" y="576.34" width="2" height="23.06" fill="#a2343f"/>
<rect x="208.4" y="576.97" width="2" height="22.43" fill="#4a6186"/>
<rect x="215.55" y="574.45" width="2" height="24.95" fill="#a2343f"/>
<line x1="219.65" y1="582.89" x2="219.65" y2="585.54" stroke="#8fa3c4" stroke-width="0.7"/>
<line x1="218.75" y1="582.89" x2="220.55" y2="582.89" stroke="#8fa3c4" stroke-width="0.7"/>
<rect x="218.65" y="585.54" width="2" height="13.86" fill="#4a6186"/>
<rect x="222.7" y="565.63" width="2" height="33.77" fill="#77a85b"/>
<rect x="225.8" y="544.84" width="2" height="54.56" fill="#a2343f"/>
<rect x="228.9" y="550.76" width="2" height="48.64" fill="#4a6186"/>
<rect x="232.95" y="567.77" width="2" height="31.63" fill="#77a85b"/>
<rect x="236.05" y="567.4" width="2" height="32" fill="#a2343f"/>
<rect x="239.15" y="567.4" width="2" height="32" fill="#4a6186"/>
<line x1="244.2" y1="561.1" x2="244.2" y2="566.64" stroke="#a9cf94" stroke-width="0.7"/>
<line x1="243.3" y1="561.1" x2="245.1" y2="561.1" stroke="#a9cf94" stroke-width="0.7"/>
<rect x="243.2" y="566.64" width="2" height="32.76" fill="#77a85b"/>
<rect x="246.3" y="545.98" width="2" height="53.42" fill="#a2343f"/>
<rect x="249.4" y="550.76" width="2" height="48.64" fill="#4a6186"/>
<line x1="257.55" y1="579.24" x2="257.55" y2="581.13" stroke="#c98a95" stroke-width="0.7"/>
<line x1="256.65" y1="579.24" x2="258.45" y2="579.24" stroke="#c98a95" stroke-width="0.7"/>
<rect x="256.55" y="581.13" width="2" height="18.27" fill="#a2343f"/>
<line x1="260.65" y1="581.13" x2="260.65" y2="584.15" stroke="#8fa3c4" stroke-width="0.7"/>
<line x1="259.75" y1="581.13" x2="261.55" y2="581.13" stroke="#8fa3c4" stroke-width="0.7"/>
<rect x="259.65" y="584.15" width="2" height="15.25" fill="#4a6186"/>
<line x1="264.7" y1="566.14" x2="264.7" y2="571.81" stroke="#a9cf94" stroke-width="0.7"/>
<line x1="263.8" y1="566.14" x2="265.6" y2="566.14" stroke="#a9cf94" stroke-width="0.7"/>
<rect x="263.7" y="571.81" width="2" height="27.59" fill="#77a85b"/>
<rect x="266.8" y="555.3" width="2" height="44.1" fill="#a2343f"/>
<line x1="270.9" y1="559.46" x2="270.9" y2="561.1" stroke="#8fa3c4" stroke-width="0.7"/>
<line x1="270" y1="559.46" x2="271.8" y2="559.46" stroke="#8fa3c4" stroke-width="0.7"/>
<rect x="269.9" y="561.1" width="2" height="38.3" fill="#4a6186"/>
<rect x="273.95" y="559.46" width="2" height="39.94" fill="#77a85b"/>
<rect x="277.05" y="534.89" width="2" height="64.51" fill="#a2343f"/>
<rect x="280.15" y="541.44" width="2" height="57.96" fill="#4a6186"/>
<rect x="284.2" y="544.84" width="2" height="54.56" fill="#77a85b"/>
<rect x="287.3" y="536.4" width="2" height="63" fill="#a2343f"/>
<rect x="290.4" y="537.16" width="2" height="62.24" fill="#4a6186"/>
<rect x="294.45" y="560.34" width="2" height="39.06" fill="#77a85b"/>
<rect x="297.55" y="553.41" width="2" height="45.99" fill="#a2343f"/>
<rect x="300.65" y="555.68" width="2" height="43.72" fill="#4a6186"/>
<rect x="304.7" y="561.1" width="2" height="38.3" fill="#77a85b"/>
<rect x="307.8" y="550.64" width="2" height="48.76" fill="#a2343f"/>
<rect x="310.9" y="556.06" width="2" height="43.34" fill="#4a6186"/>
<line x1="200.4" y1="521.3" x2="200.4" y2="600" stroke="#111" stroke-width="1.3"/>
<line x1="199.8" y1="599.4" x2="314.6" y2="599.4" stroke="#111" stroke-width="1.3"/>
<line x1="197.2" y1="599.4" x2="200.4" y2="599.4" stroke="#111" stroke-width="1"/>
<line x1="198.2" y1="595.61" x2="200.4" y2="595.61" stroke="#000" stroke-width="0.9"/>
<line x1="198.2" y1="593.39" x2="200.4" y2="593.39" stroke="#000" stroke-width="0.9"/>
<line x1="198.2" y1="591.81" x2="200.4" y2="591.81" stroke="#000" stroke-width="0.9"/>
<line x1="198.2" y1="590.59" x2="200.4" y2="590.59" stroke="#000" stroke-width="0.9"/>
<line x1="198.2" y1="589.6" x2="200.4" y2="589.6" stroke="#000" stroke-width="0.9"/>
<line x1="198.2" y1="588.75" x2="200.4" y2="588.75" stroke="#000" stroke-width="0.9"/>
<line x1="198.2" y1="588.02" x2="200.4" y2="588.02" stroke="#000" stroke-width="0.9"/>
<line x1="198.2" y1="587.38" x2="200.4" y2="587.38" stroke="#000" stroke-width="0.9"/>
<text transform="translate(183.2 602.1) scale(0.1)" font-size="83" textLength="70" lengthAdjust="spacingAndGlyphs">10</text>
<text transform="translate(190.8 598.8) scale(0.1)" font-size="62" textLength="31" lengthAdjust="spacingAndGlyphs">0</text>
<line x1="197.2" y1="586.8" x2="200.4" y2="586.8" stroke="#111" stroke-width="1"/>
<line x1="198.2" y1="583.01" x2="200.4" y2="583.01" stroke="#000" stroke-width="0.9"/>
<line x1="198.2" y1="580.79" x2="200.4" y2="580.79" stroke="#000" stroke-width="0.9"/>
<line x1="198.2" y1="579.21" x2="200.4" y2="579.21" stroke="#000" stroke-width="0.9"/>
<line x1="198.2" y1="577.99" x2="200.4" y2="577.99" stroke="#000" stroke-width="0.9"/>
<line x1="198.2" y1="577" x2="200.4" y2="577" stroke="#000" stroke-width="0.9"/>
<line x1="198.2" y1="576.15" x2="200.4" y2="576.15" stroke="#000" stroke-width="0.9"/>
<line x1="198.2" y1="575.42" x2="200.4" y2="575.42" stroke="#000" stroke-width="0.9"/>
<line x1="198.2" y1="574.78" x2="200.4" y2="574.78" stroke="#000" stroke-width="0.9"/>
<text transform="translate(183.2 589.5) scale(0.1)" font-size="83" textLength="70" lengthAdjust="spacingAndGlyphs">10</text>
<text transform="translate(190.8 586.2) scale(0.1)" font-size="62" textLength="31" lengthAdjust="spacingAndGlyphs">1</text>
<line x1="197.2" y1="574.2" x2="200.4" y2="574.2" stroke="#111" stroke-width="1"/>
<line x1="198.2" y1="570.41" x2="200.4" y2="570.41" stroke="#000" stroke-width="0.9"/>
<line x1="198.2" y1="568.19" x2="200.4" y2="568.19" stroke="#000" stroke-width="0.9"/>
<line x1="198.2" y1="566.61" x2="200.4" y2="566.61" stroke="#000" stroke-width="0.9"/>
<line x1="198.2" y1="565.39" x2="200.4" y2="565.39" stroke="#000" stroke-width="0.9"/>
<line x1="198.2" y1="564.4" x2="200.4" y2="564.4" stroke="#000" stroke-width="0.9"/>
<line x1="198.2" y1="563.55" x2="200.4" y2="563.55" stroke="#000" stroke-width="0.9"/>
<line x1="198.2" y1="562.82" x2="200.4" y2="562.82" stroke="#000" stroke-width="0.9"/>
<line x1="198.2" y1="562.18" x2="200.4" y2="562.18" stroke="#000" stroke-width="0.9"/>
<text transform="translate(183.2 576.9) scale(0.1)" font-size="83" textLength="70" lengthAdjust="spacingAndGlyphs">10</text>
<text transform="translate(190.8 573.6) scale(0.1)" font-size="62" textLength="31" lengthAdjust="spacingAndGlyphs">2</text>
<line x1="197.2" y1="561.6" x2="200.4" y2="561.6" stroke="#111" stroke-width="1"/>
<line x1="198.2" y1="557.81" x2="200.4" y2="557.81" stroke="#000" stroke-width="0.9"/>
<line x1="198.2" y1="555.59" x2="200.4" y2="555.59" stroke="#000" stroke-width="0.9"/>
<line x1="198.2" y1="554.01" x2="200.4" y2="554.01" stroke="#000" stroke-width="0.9"/>
<line x1="198.2" y1="552.79" x2="200.4" y2="552.79" stroke="#000" stroke-width="0.9"/>
<line x1="198.2" y1="551.8" x2="200.4" y2="551.8" stroke="#000" stroke-width="0.9"/>
<line x1="198.2" y1="550.95" x2="200.4" y2="550.95" stroke="#000" stroke-width="0.9"/>
<line x1="198.2" y1="550.22" x2="200.4" y2="550.22" stroke="#000" stroke-width="0.9"/>
<line x1="198.2" y1="549.58" x2="200.4" y2="549.58" stroke="#000" stroke-width="0.9"/>
<text transform="translate(183.2 564.3) scale(0.1)" font-size="83" textLength="70" lengthAdjust="spacingAndGlyphs">10</text>
<text transform="translate(190.8 561) scale(0.1)" font-size="62" textLength="31" lengthAdjust="spacingAndGlyphs">3</text>
<line x1="197.2" y1="549" x2="200.4" y2="549" stroke="#111" stroke-width="1"/>
<line x1="198.2" y1="545.21" x2="200.4" y2="545.21" stroke="#000" stroke-width="0.9"/>
<line x1="198.2" y1="542.99" x2="200.4" y2="542.99" stroke="#000" stroke-width="0.9"/>
<line x1="198.2" y1="541.41" x2="200.4" y2="541.41" stroke="#000" stroke-width="0.9"/>
<line x1="198.2" y1="540.19" x2="200.4" y2="540.19" stroke="#000" stroke-width="0.9"/>
<line x1="198.2" y1="539.2" x2="200.4" y2="539.2" stroke="#000" stroke-width="0.9"/>
<line x1="198.2" y1="538.35" x2="200.4" y2="538.35" stroke="#000" stroke-width="0.9"/>
<line x1="198.2" y1="537.62" x2="200.4" y2="537.62" stroke="#000" stroke-width="0.9"/>
<line x1="198.2" y1="536.98" x2="200.4" y2="536.98" stroke="#000" stroke-width="0.9"/>
<text transform="translate(183.2 551.7) scale(0.1)" font-size="83" textLength="70" lengthAdjust="spacingAndGlyphs">10</text>
<text transform="translate(190.8 548.4) scale(0.1)" font-size="62" textLength="31" lengthAdjust="spacingAndGlyphs">4</text>
<line x1="197.2" y1="536.4" x2="200.4" y2="536.4" stroke="#111" stroke-width="1"/>
<line x1="198.2" y1="532.61" x2="200.4" y2="532.61" stroke="#000" stroke-width="0.9"/>
<line x1="198.2" y1="530.39" x2="200.4" y2="530.39" stroke="#000" stroke-width="0.9"/>
<line x1="198.2" y1="528.81" x2="200.4" y2="528.81" stroke="#000" stroke-width="0.9"/>
<line x1="198.2" y1="527.59" x2="200.4" y2="527.59" stroke="#000" stroke-width="0.9"/>
<line x1="198.2" y1="526.6" x2="200.4" y2="526.6" stroke="#000" stroke-width="0.9"/>
<line x1="198.2" y1="525.75" x2="200.4" y2="525.75" stroke="#000" stroke-width="0.9"/>
<line x1="198.2" y1="525.02" x2="200.4" y2="525.02" stroke="#000" stroke-width="0.9"/>
<line x1="198.2" y1="524.38" x2="200.4" y2="524.38" stroke="#000" stroke-width="0.9"/>
<text transform="translate(183.2 539.1) scale(0.1)" font-size="83" textLength="70" lengthAdjust="spacingAndGlyphs">10</text>
<text transform="translate(190.8 535.8) scale(0.1)" font-size="62" textLength="31" lengthAdjust="spacingAndGlyphs">5</text>
<line x1="197.2" y1="523.8" x2="200.4" y2="523.8" stroke="#111" stroke-width="1"/>
<text transform="translate(183.2 526.5) scale(0.1)" font-size="83" textLength="70" lengthAdjust="spacingAndGlyphs">10</text>
<text transform="translate(190.8 523.2) scale(0.1)" font-size="62" textLength="31" lengthAdjust="spacingAndGlyphs">6</text>
<line x1="206.3" y1="599.4" x2="206.3" y2="601.8" stroke="#111" stroke-width="0.8"/>
<line x1="216.55" y1="599.4" x2="216.55" y2="601.8" stroke="#111" stroke-width="0.8"/>
<line x1="226.8" y1="599.4" x2="226.8" y2="601.8" stroke="#111" stroke-width="0.8"/>
<line x1="237.05" y1="599.4" x2="237.05" y2="601.8" stroke="#111" stroke-width="0.8"/>
<line x1="247.3" y1="599.4" x2="247.3" y2="601.8" stroke="#111" stroke-width="0.8"/>
<line x1="257.55" y1="599.4" x2="257.55" y2="601.8" stroke="#111" stroke-width="0.8"/>
<line x1="267.8" y1="599.4" x2="267.8" y2="601.8" stroke="#111" stroke-width="0.8"/>
<line x1="278.05" y1="599.4" x2="278.05" y2="601.8" stroke="#111" stroke-width="0.8"/>
<line x1="288.3" y1="599.4" x2="288.3" y2="601.8" stroke="#111" stroke-width="0.8"/>
<line x1="298.55" y1="599.4" x2="298.55" y2="601.8" stroke="#111" stroke-width="0.8"/>
<line x1="308.8" y1="599.4" x2="308.8" y2="601.8" stroke="#111" stroke-width="0.8"/>
<text transform="translate(208.9 608.4) rotate(-45) scale(0.1)" font-size="73" text-anchor="end">IL-1ra</text>
<text transform="translate(219.15 608.4) rotate(-45) scale(0.1)" font-size="73" text-anchor="end">IL-2</text>
<text transform="translate(229.4 608.4) rotate(-45) scale(0.1)" font-size="73" text-anchor="end">IL-8</text>
<text transform="translate(239.65 608.4) rotate(-45) scale(0.1)" font-size="73" text-anchor="end">IL-10</text>
<text transform="translate(249.9 608.4) rotate(-45) scale(0.1)" font-size="73" text-anchor="end">IL-13</text>
<text transform="translate(260.15 608.4) rotate(-45) scale(0.1)" font-size="73" text-anchor="end">Eotaxin</text>
<text transform="translate(270.4 608.4) rotate(-45) scale(0.1)" font-size="73" text-anchor="end">GM-CSF</text>
<text transform="translate(280.65 608.4) rotate(-45) scale(0.1)" font-size="73" text-anchor="end">IFN-g</text>
<text transform="translate(290.9 608.4) rotate(-45) scale(0.1)" font-size="73" text-anchor="end">IP-10</text>
<text transform="translate(301.15 608.4) rotate(-45) scale(0.1)" font-size="73" text-anchor="end">MIP-1b</text>
<text transform="translate(311.4 608.4) rotate(-45) scale(0.1)" font-size="73" text-anchor="end">TNF-a</text>
<rect x="356" y="578.52" width="2" height="20.98" fill="#77a85b"/>
<rect x="359.1" y="575.26" width="2" height="24.24" fill="#a2343f"/>
<rect x="362.2" y="575.76" width="2" height="23.74" fill="#4a6186"/>
<line x1="367.25" y1="585.06" x2="367.25" y2="589.08" stroke="#a9cf94" stroke-width="0.7"/>
<line x1="366.35" y1="585.06" x2="368.15" y2="585.06" stroke="#a9cf94" stroke-width="0.7"/>
<rect x="366.25" y="589.08" width="2" height="10.42" fill="#77a85b"/>
<line x1="370.35" y1="562.2" x2="370.35" y2="565.34" stroke="#c98a95" stroke-width="0.7"/>
<line x1="369.45" y1="562.2" x2="371.25" y2="562.2" stroke="#c98a95" stroke-width="0.7"/>
<rect x="369.35" y="565.34" width="2" height="34.16" fill="#a2343f"/>
<line x1="373.45" y1="570.24" x2="373.45" y2="575.26" stroke="#8fa3c4" stroke-width="0.7"/>
<line x1="372.55" y1="570.24" x2="374.35" y2="570.24" stroke="#8fa3c4" stroke-width="0.7"/>
<rect x="372.45" y="575.26" width="2" height="24.24" fill="#4a6186"/>
<rect x="376.5" y="561.44" width="2" height="38.06" fill="#77a85b"/>
<rect x="379.6" y="544.74" width="2" height="54.76" fill="#a2343f"/>
<rect x="382.7" y="550.64" width="2" height="48.86" fill="#4a6186"/>
<rect x="386.75" y="566.84" width="2" height="32.66" fill="#77a85b"/>
<rect x="389.85" y="565.34" width="2" height="34.16" fill="#a2343f"/>
<rect x="392.95" y="566.72" width="2" height="32.78" fill="#4a6186"/>
<rect x="397" y="561.44" width="2" height="38.06" fill="#77a85b"/>
<rect x="400.1" y="546.12" width="2" height="53.38" fill="#a2343f"/>
<rect x="403.2" y="547" width="2" height="52.5" fill="#4a6186"/>
<line x1="408.25" y1="589.33" x2="408.25" y2="595.36" stroke="#a9cf94" stroke-width="0.7"/>
<line x1="407.35" y1="589.33" x2="409.15" y2="589.33" stroke="#a9cf94" stroke-width="0.7"/>
<rect x="407.25" y="595.36" width="2" height="4.14" fill="#77a85b"/>
<line x1="411.35" y1="579.78" x2="411.35" y2="582.04" stroke="#c98a95" stroke-width="0.7"/>
<line x1="410.45" y1="579.78" x2="412.25" y2="579.78" stroke="#c98a95" stroke-width="0.7"/>
<rect x="410.35" y="582.04" width="2" height="17.46" fill="#a2343f"/>
<line x1="414.45" y1="579.66" x2="414.45" y2="582.8" stroke="#8fa3c4" stroke-width="0.7"/>
<line x1="413.55" y1="579.66" x2="415.35" y2="579.66" stroke="#8fa3c4" stroke-width="0.7"/>
<rect x="413.45" y="582.8" width="2" height="16.7" fill="#4a6186"/>
<rect x="417.5" y="563.96" width="2" height="35.54" fill="#77a85b"/>
<rect x="420.6" y="552.4" width="2" height="47.1" fill="#a2343f"/>
<rect x="423.7" y="555.92" width="2" height="43.58" fill="#4a6186"/>
<rect x="427.75" y="551.65" width="2" height="47.85" fill="#77a85b"/>
<rect x="430.85" y="534.69" width="2" height="64.81" fill="#a2343f"/>
<rect x="433.95" y="538.84" width="2" height="60.66" fill="#4a6186"/>
<rect x="438" y="541.22" width="2" height="58.28" fill="#77a85b"/>
<rect x="441.1" y="534.56" width="2" height="64.94" fill="#a2343f"/>
<rect x="444.2" y="536.2" width="2" height="63.3" fill="#4a6186"/>
<line x1="449.25" y1="557.05" x2="449.25" y2="558.81" stroke="#a9cf94" stroke-width="0.7"/>
<line x1="448.35" y1="557.05" x2="450.15" y2="557.05" stroke="#a9cf94" stroke-width="0.7"/>
<rect x="448.25" y="558.81" width="2" height="40.69" fill="#77a85b"/>
<rect x="451.35" y="551.27" width="2" height="48.23" fill="#a2343f"/>
<rect x="454.45" y="554.79" width="2" height="44.71" fill="#4a6186"/>
<rect x="458.5" y="559.94" width="2" height="39.56" fill="#77a85b"/>
<rect x="461.6" y="550.52" width="2" height="48.98" fill="#a2343f"/>
<rect x="464.7" y="553.53" width="2" height="45.97" fill="#4a6186"/>
<line x1="354.2" y1="521.4" x2="354.2" y2="600.1" stroke="#111" stroke-width="1.3"/>
<line x1="353.6" y1="599.5" x2="467.7" y2="599.5" stroke="#111" stroke-width="1.3"/>
<line x1="351" y1="599.5" x2="354.2" y2="599.5" stroke="#111" stroke-width="1"/>
<line x1="352" y1="595.72" x2="354.2" y2="595.72" stroke="#000" stroke-width="0.9"/>
<line x1="352" y1="593.51" x2="354.2" y2="593.51" stroke="#000" stroke-width="0.9"/>
<line x1="352" y1="591.94" x2="354.2" y2="591.94" stroke="#000" stroke-width="0.9"/>
<line x1="352" y1="590.72" x2="354.2" y2="590.72" stroke="#000" stroke-width="0.9"/>
<line x1="352" y1="589.73" x2="354.2" y2="589.73" stroke="#000" stroke-width="0.9"/>
<line x1="352" y1="588.89" x2="354.2" y2="588.89" stroke="#000" stroke-width="0.9"/>
<line x1="352" y1="588.16" x2="354.2" y2="588.16" stroke="#000" stroke-width="0.9"/>
<line x1="352" y1="587.51" x2="354.2" y2="587.51" stroke="#000" stroke-width="0.9"/>
<text transform="translate(337 602.2) scale(0.1)" font-size="83" textLength="70" lengthAdjust="spacingAndGlyphs">10</text>
<text transform="translate(344.6 598.9) scale(0.1)" font-size="62" textLength="31" lengthAdjust="spacingAndGlyphs">0</text>
<line x1="351" y1="586.94" x2="354.2" y2="586.94" stroke="#111" stroke-width="1"/>
<line x1="352" y1="583.16" x2="354.2" y2="583.16" stroke="#000" stroke-width="0.9"/>
<line x1="352" y1="580.95" x2="354.2" y2="580.95" stroke="#000" stroke-width="0.9"/>
<line x1="352" y1="579.38" x2="354.2" y2="579.38" stroke="#000" stroke-width="0.9"/>
<line x1="352" y1="578.16" x2="354.2" y2="578.16" stroke="#000" stroke-width="0.9"/>
<line x1="352" y1="577.17" x2="354.2" y2="577.17" stroke="#000" stroke-width="0.9"/>
<line x1="352" y1="576.33" x2="354.2" y2="576.33" stroke="#000" stroke-width="0.9"/>
<line x1="352" y1="575.6" x2="354.2" y2="575.6" stroke="#000" stroke-width="0.9"/>
<line x1="352" y1="574.95" x2="354.2" y2="574.95" stroke="#000" stroke-width="0.9"/>
<text transform="translate(337 589.64) scale(0.1)" font-size="83" textLength="70" lengthAdjust="spacingAndGlyphs">10</text>
<text transform="translate(344.6 586.34) scale(0.1)" font-size="62" textLength="31" lengthAdjust="spacingAndGlyphs">1</text>
<line x1="351" y1="574.38" x2="354.2" y2="574.38" stroke="#111" stroke-width="1"/>
<line x1="352" y1="570.6" x2="354.2" y2="570.6" stroke="#000" stroke-width="0.9"/>
<line x1="352" y1="568.39" x2="354.2" y2="568.39" stroke="#000" stroke-width="0.9"/>
<line x1="352" y1="566.82" x2="354.2" y2="566.82" stroke="#000" stroke-width="0.9"/>
<line x1="352" y1="565.6" x2="354.2" y2="565.6" stroke="#000" stroke-width="0.9"/>
<line x1="352" y1="564.61" x2="354.2" y2="564.61" stroke="#000" stroke-width="0.9"/>
<line x1="352" y1="563.77" x2="354.2" y2="563.77" stroke="#000" stroke-width="0.9"/>
<line x1="352" y1="563.04" x2="354.2" y2="563.04" stroke="#000" stroke-width="0.9"/>
<line x1="352" y1="562.39" x2="354.2" y2="562.39" stroke="#000" stroke-width="0.9"/>
<text transform="translate(337 577.08) scale(0.1)" font-size="83" textLength="70" lengthAdjust="spacingAndGlyphs">10</text>
<text transform="translate(344.6 573.78) scale(0.1)" font-size="62" textLength="31" lengthAdjust="spacingAndGlyphs">2</text>
<line x1="351" y1="561.82" x2="354.2" y2="561.82" stroke="#111" stroke-width="1"/>
<line x1="352" y1="558.04" x2="354.2" y2="558.04" stroke="#000" stroke-width="0.9"/>
<line x1="352" y1="555.83" x2="354.2" y2="555.83" stroke="#000" stroke-width="0.9"/>
<line x1="352" y1="554.26" x2="354.2" y2="554.26" stroke="#000" stroke-width="0.9"/>
<line x1="352" y1="553.04" x2="354.2" y2="553.04" stroke="#000" stroke-width="0.9"/>
<line x1="352" y1="552.05" x2="354.2" y2="552.05" stroke="#000" stroke-width="0.9"/>
<line x1="352" y1="551.21" x2="354.2" y2="551.21" stroke="#000" stroke-width="0.9"/>
<line x1="352" y1="550.48" x2="354.2" y2="550.48" stroke="#000" stroke-width="0.9"/>
<line x1="352" y1="549.83" x2="354.2" y2="549.83" stroke="#000" stroke-width="0.9"/>
<text transform="translate(337 564.52) scale(0.1)" font-size="83" textLength="70" lengthAdjust="spacingAndGlyphs">10</text>
<text transform="translate(344.6 561.22) scale(0.1)" font-size="62" textLength="31" lengthAdjust="spacingAndGlyphs">3</text>
<line x1="351" y1="549.26" x2="354.2" y2="549.26" stroke="#111" stroke-width="1"/>
<line x1="352" y1="545.48" x2="354.2" y2="545.48" stroke="#000" stroke-width="0.9"/>
<line x1="352" y1="543.27" x2="354.2" y2="543.27" stroke="#000" stroke-width="0.9"/>
<line x1="352" y1="541.7" x2="354.2" y2="541.7" stroke="#000" stroke-width="0.9"/>
<line x1="352" y1="540.48" x2="354.2" y2="540.48" stroke="#000" stroke-width="0.9"/>
<line x1="352" y1="539.49" x2="354.2" y2="539.49" stroke="#000" stroke-width="0.9"/>
<line x1="352" y1="538.65" x2="354.2" y2="538.65" stroke="#000" stroke-width="0.9"/>
<line x1="352" y1="537.92" x2="354.2" y2="537.92" stroke="#000" stroke-width="0.9"/>
<line x1="352" y1="537.27" x2="354.2" y2="537.27" stroke="#000" stroke-width="0.9"/>
<text transform="translate(337 551.96) scale(0.1)" font-size="83" textLength="70" lengthAdjust="spacingAndGlyphs">10</text>
<text transform="translate(344.6 548.66) scale(0.1)" font-size="62" textLength="31" lengthAdjust="spacingAndGlyphs">4</text>
<line x1="351" y1="536.7" x2="354.2" y2="536.7" stroke="#111" stroke-width="1"/>
<line x1="352" y1="532.92" x2="354.2" y2="532.92" stroke="#000" stroke-width="0.9"/>
<line x1="352" y1="530.71" x2="354.2" y2="530.71" stroke="#000" stroke-width="0.9"/>
<line x1="352" y1="529.14" x2="354.2" y2="529.14" stroke="#000" stroke-width="0.9"/>
<line x1="352" y1="527.92" x2="354.2" y2="527.92" stroke="#000" stroke-width="0.9"/>
<line x1="352" y1="526.93" x2="354.2" y2="526.93" stroke="#000" stroke-width="0.9"/>
<line x1="352" y1="526.09" x2="354.2" y2="526.09" stroke="#000" stroke-width="0.9"/>
<line x1="352" y1="525.36" x2="354.2" y2="525.36" stroke="#000" stroke-width="0.9"/>
<line x1="352" y1="524.71" x2="354.2" y2="524.71" stroke="#000" stroke-width="0.9"/>
<text transform="translate(337 539.4) scale(0.1)" font-size="83" textLength="70" lengthAdjust="spacingAndGlyphs">10</text>
<text transform="translate(344.6 536.1) scale(0.1)" font-size="62" textLength="31" lengthAdjust="spacingAndGlyphs">5</text>
<line x1="351" y1="524.14" x2="354.2" y2="524.14" stroke="#111" stroke-width="1"/>
<text transform="translate(337 526.84) scale(0.1)" font-size="83" textLength="70" lengthAdjust="spacingAndGlyphs">10</text>
<text transform="translate(344.6 523.54) scale(0.1)" font-size="62" textLength="31" lengthAdjust="spacingAndGlyphs">6</text>
<line x1="360.1" y1="599.5" x2="360.1" y2="601.9" stroke="#111" stroke-width="0.8"/>
<line x1="370.35" y1="599.5" x2="370.35" y2="601.9" stroke="#111" stroke-width="0.8"/>
<line x1="380.6" y1="599.5" x2="380.6" y2="601.9" stroke="#111" stroke-width="0.8"/>
<line x1="390.85" y1="599.5" x2="390.85" y2="601.9" stroke="#111" stroke-width="0.8"/>
<line x1="401.1" y1="599.5" x2="401.1" y2="601.9" stroke="#111" stroke-width="0.8"/>
<line x1="411.35" y1="599.5" x2="411.35" y2="601.9" stroke="#111" stroke-width="0.8"/>
<line x1="421.6" y1="599.5" x2="421.6" y2="601.9" stroke="#111" stroke-width="0.8"/>
<line x1="431.85" y1="599.5" x2="431.85" y2="601.9" stroke="#111" stroke-width="0.8"/>
<line x1="442.1" y1="599.5" x2="442.1" y2="601.9" stroke="#111" stroke-width="0.8"/>
<line x1="452.35" y1="599.5" x2="452.35" y2="601.9" stroke="#111" stroke-width="0.8"/>
<line x1="462.6" y1="599.5" x2="462.6" y2="601.9" stroke="#111" stroke-width="0.8"/>
<text transform="translate(362.7 608.5) rotate(-45) scale(0.1)" font-size="73" text-anchor="end">IL-1ra</text>
<text transform="translate(372.95 608.5) rotate(-45) scale(0.1)" font-size="73" text-anchor="end">IL-2</text>
<text transform="translate(383.2 608.5) rotate(-45) scale(0.1)" font-size="73" text-anchor="end">IL-8</text>
<text transform="translate(393.45 608.5) rotate(-45) scale(0.1)" font-size="73" text-anchor="end">IL-10</text>
<text transform="translate(403.7 608.5) rotate(-45) scale(0.1)" font-size="73" text-anchor="end">IL-13</text>
<text transform="translate(413.95 608.5) rotate(-45) scale(0.1)" font-size="73" text-anchor="end">Eotaxin</text>
<text transform="translate(424.2 608.5) rotate(-45) scale(0.1)" font-size="73" text-anchor="end">GM-CSF</text>
<text transform="translate(434.45 608.5) rotate(-45) scale(0.1)" font-size="73" text-anchor="end">IFN-g</text>
<text transform="translate(444.7 608.5) rotate(-45) scale(0.1)" font-size="73" text-anchor="end">IP-10</text>
<text transform="translate(454.95 608.5) rotate(-45) scale(0.1)" font-size="73" text-anchor="end">MIP-1b</text>
<text transform="translate(465.2 608.5) rotate(-45) scale(0.1)" font-size="73" text-anchor="end">TNF-a</text>
<rect x="0" y="0" width="520" height="1" fill="#4a4a4a"/>
<rect x="0" y="1" width="520" height="0.5" fill="#aaaaaa"/>
<rect x="0" y="0" width="1" height="642" fill="#000"/>
<rect x="519" y="0" width="1" height="642" fill="#000"/>
<rect x="0" y="641" width="520" height="1" fill="#555"/>
</svg>
</body></html>
